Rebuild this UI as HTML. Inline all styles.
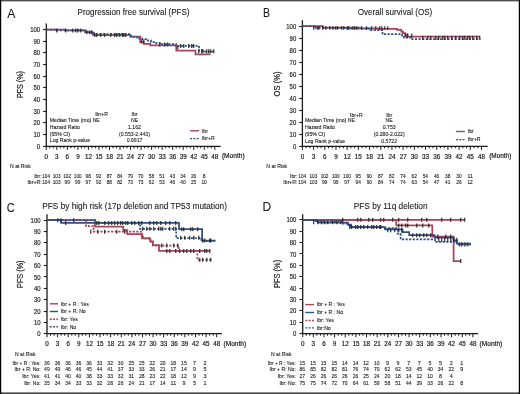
<!DOCTYPE html><html><head><meta charset="utf-8"><style>html,body{margin:0;padding:0;background:#fff;}svg{display:block;will-change:transform;filter:blur(0.3px);} text{stroke:#1a1a1a;stroke-width:0.18px;}</style></head><body>
<svg width="520" height="394" viewBox="0 0 520 394" font-family='"Liberation Sans", sans-serif'>
<rect x="0" y="0" width="520" height="394" fill="#fff"/>
<text x="7.20" y="17.60" font-size="12.2" fill="#1a1a1a" style="stroke-width:0.08px">A</text>
<text x="77.50" y="15.00" font-size="9" textLength="112" lengthAdjust="spacingAndGlyphs" fill="#1a1a1a" style="stroke-width:0.1px">Progression free survival (PFS)</text>
<text transform="translate(23.3,98.1) rotate(-90)" font-size="8.2" textLength="27" lengthAdjust="spacingAndGlyphs" fill="#1a1a1a">PFS (%)</text>
<line x1="46.30" y1="23.60" x2="46.30" y2="146.90" stroke="#1a1a1a" stroke-width="1.3"/>
<line x1="45.70" y1="146.30" x2="220.60" y2="146.30" stroke="#1a1a1a" stroke-width="1.3"/>
<line x1="43.10" y1="146.50" x2="46.30" y2="146.50" stroke="#1a1a1a" stroke-width="1.1"/>
<text x="40.10" y="148.85" font-size="7.4" text-anchor="end" textLength="3.3" lengthAdjust="spacingAndGlyphs" fill="#1a1a1a">0</text>
<line x1="43.10" y1="134.50" x2="46.30" y2="134.50" stroke="#1a1a1a" stroke-width="1.1"/>
<text x="40.10" y="137.17" font-size="7.4" text-anchor="end" textLength="6.6" lengthAdjust="spacingAndGlyphs" fill="#1a1a1a">10</text>
<line x1="43.10" y1="122.50" x2="46.30" y2="122.50" stroke="#1a1a1a" stroke-width="1.1"/>
<text x="40.10" y="125.49" font-size="7.4" text-anchor="end" textLength="6.6" lengthAdjust="spacingAndGlyphs" fill="#1a1a1a">20</text>
<line x1="43.10" y1="111.50" x2="46.30" y2="111.50" stroke="#1a1a1a" stroke-width="1.1"/>
<text x="40.10" y="113.81" font-size="7.4" text-anchor="end" textLength="6.6" lengthAdjust="spacingAndGlyphs" fill="#1a1a1a">30</text>
<line x1="43.10" y1="99.50" x2="46.30" y2="99.50" stroke="#1a1a1a" stroke-width="1.1"/>
<text x="40.10" y="102.13" font-size="7.4" text-anchor="end" textLength="6.6" lengthAdjust="spacingAndGlyphs" fill="#1a1a1a">40</text>
<line x1="43.10" y1="87.50" x2="46.30" y2="87.50" stroke="#1a1a1a" stroke-width="1.1"/>
<text x="40.10" y="90.45" font-size="7.4" text-anchor="end" textLength="6.6" lengthAdjust="spacingAndGlyphs" fill="#1a1a1a">50</text>
<line x1="43.10" y1="76.50" x2="46.30" y2="76.50" stroke="#1a1a1a" stroke-width="1.1"/>
<text x="40.10" y="78.77" font-size="7.4" text-anchor="end" textLength="6.6" lengthAdjust="spacingAndGlyphs" fill="#1a1a1a">60</text>
<line x1="43.10" y1="64.50" x2="46.30" y2="64.50" stroke="#1a1a1a" stroke-width="1.1"/>
<text x="40.10" y="67.09" font-size="7.4" text-anchor="end" textLength="6.6" lengthAdjust="spacingAndGlyphs" fill="#1a1a1a">70</text>
<line x1="43.10" y1="52.50" x2="46.30" y2="52.50" stroke="#1a1a1a" stroke-width="1.1"/>
<text x="40.10" y="55.41" font-size="7.4" text-anchor="end" textLength="6.6" lengthAdjust="spacingAndGlyphs" fill="#1a1a1a">80</text>
<line x1="43.10" y1="41.50" x2="46.30" y2="41.50" stroke="#1a1a1a" stroke-width="1.1"/>
<text x="40.10" y="43.73" font-size="7.4" text-anchor="end" textLength="6.6" lengthAdjust="spacingAndGlyphs" fill="#1a1a1a">90</text>
<line x1="43.10" y1="29.50" x2="46.30" y2="29.50" stroke="#1a1a1a" stroke-width="1.1"/>
<text x="40.10" y="32.05" font-size="7.4" text-anchor="end" textLength="9.9" lengthAdjust="spacingAndGlyphs" fill="#1a1a1a">100</text>
<line x1="46.30" y1="146.30" x2="46.30" y2="149.90" stroke="#1a1a1a" stroke-width="1.0"/>
<text x="46.30" y="158.70" font-size="6.3" text-anchor="middle" fill="#1a1a1a">0</text>
<line x1="49.81" y1="146.30" x2="49.81" y2="148.30" stroke="#1a1a1a" stroke-width="1.0"/>
<line x1="53.32" y1="146.30" x2="53.32" y2="148.30" stroke="#1a1a1a" stroke-width="1.0"/>
<line x1="56.83" y1="146.30" x2="56.83" y2="149.90" stroke="#1a1a1a" stroke-width="1.0"/>
<text x="56.83" y="158.70" font-size="6.3" text-anchor="middle" fill="#1a1a1a">3</text>
<line x1="60.34" y1="146.30" x2="60.34" y2="148.30" stroke="#1a1a1a" stroke-width="1.0"/>
<line x1="63.85" y1="146.30" x2="63.85" y2="148.30" stroke="#1a1a1a" stroke-width="1.0"/>
<line x1="67.36" y1="146.30" x2="67.36" y2="149.90" stroke="#1a1a1a" stroke-width="1.0"/>
<text x="67.36" y="158.70" font-size="6.3" text-anchor="middle" fill="#1a1a1a">6</text>
<line x1="70.87" y1="146.30" x2="70.87" y2="148.30" stroke="#1a1a1a" stroke-width="1.0"/>
<line x1="74.38" y1="146.30" x2="74.38" y2="148.30" stroke="#1a1a1a" stroke-width="1.0"/>
<line x1="77.89" y1="146.30" x2="77.89" y2="149.90" stroke="#1a1a1a" stroke-width="1.0"/>
<text x="77.89" y="158.70" font-size="6.3" text-anchor="middle" fill="#1a1a1a">9</text>
<line x1="81.40" y1="146.30" x2="81.40" y2="148.30" stroke="#1a1a1a" stroke-width="1.0"/>
<line x1="84.91" y1="146.30" x2="84.91" y2="148.30" stroke="#1a1a1a" stroke-width="1.0"/>
<line x1="88.42" y1="146.30" x2="88.42" y2="149.90" stroke="#1a1a1a" stroke-width="1.0"/>
<text x="88.42" y="158.70" font-size="6.3" text-anchor="middle" fill="#1a1a1a">12</text>
<line x1="91.94" y1="146.30" x2="91.94" y2="148.30" stroke="#1a1a1a" stroke-width="1.0"/>
<line x1="95.45" y1="146.30" x2="95.45" y2="148.30" stroke="#1a1a1a" stroke-width="1.0"/>
<line x1="98.96" y1="146.30" x2="98.96" y2="149.90" stroke="#1a1a1a" stroke-width="1.0"/>
<text x="98.96" y="158.70" font-size="6.3" text-anchor="middle" fill="#1a1a1a">15</text>
<line x1="102.47" y1="146.30" x2="102.47" y2="148.30" stroke="#1a1a1a" stroke-width="1.0"/>
<line x1="105.98" y1="146.30" x2="105.98" y2="148.30" stroke="#1a1a1a" stroke-width="1.0"/>
<line x1="109.49" y1="146.30" x2="109.49" y2="149.90" stroke="#1a1a1a" stroke-width="1.0"/>
<text x="109.49" y="158.70" font-size="6.3" text-anchor="middle" fill="#1a1a1a">18</text>
<line x1="113.00" y1="146.30" x2="113.00" y2="148.30" stroke="#1a1a1a" stroke-width="1.0"/>
<line x1="116.51" y1="146.30" x2="116.51" y2="148.30" stroke="#1a1a1a" stroke-width="1.0"/>
<line x1="120.02" y1="146.30" x2="120.02" y2="149.90" stroke="#1a1a1a" stroke-width="1.0"/>
<text x="120.02" y="158.70" font-size="6.3" text-anchor="middle" fill="#1a1a1a">21</text>
<line x1="123.53" y1="146.30" x2="123.53" y2="148.30" stroke="#1a1a1a" stroke-width="1.0"/>
<line x1="127.04" y1="146.30" x2="127.04" y2="148.30" stroke="#1a1a1a" stroke-width="1.0"/>
<line x1="130.55" y1="146.30" x2="130.55" y2="149.90" stroke="#1a1a1a" stroke-width="1.0"/>
<text x="130.55" y="158.70" font-size="6.3" text-anchor="middle" fill="#1a1a1a">24</text>
<line x1="134.06" y1="146.30" x2="134.06" y2="148.30" stroke="#1a1a1a" stroke-width="1.0"/>
<line x1="137.57" y1="146.30" x2="137.57" y2="148.30" stroke="#1a1a1a" stroke-width="1.0"/>
<line x1="141.08" y1="146.30" x2="141.08" y2="149.90" stroke="#1a1a1a" stroke-width="1.0"/>
<text x="141.08" y="158.70" font-size="6.3" text-anchor="middle" fill="#1a1a1a">27</text>
<line x1="144.59" y1="146.30" x2="144.59" y2="148.30" stroke="#1a1a1a" stroke-width="1.0"/>
<line x1="148.10" y1="146.30" x2="148.10" y2="148.30" stroke="#1a1a1a" stroke-width="1.0"/>
<line x1="151.61" y1="146.30" x2="151.61" y2="149.90" stroke="#1a1a1a" stroke-width="1.0"/>
<text x="151.61" y="158.70" font-size="6.3" text-anchor="middle" fill="#1a1a1a">30</text>
<line x1="155.12" y1="146.30" x2="155.12" y2="148.30" stroke="#1a1a1a" stroke-width="1.0"/>
<line x1="158.63" y1="146.30" x2="158.63" y2="148.30" stroke="#1a1a1a" stroke-width="1.0"/>
<line x1="162.14" y1="146.30" x2="162.14" y2="149.90" stroke="#1a1a1a" stroke-width="1.0"/>
<text x="162.14" y="158.70" font-size="6.3" text-anchor="middle" fill="#1a1a1a">33</text>
<line x1="165.65" y1="146.30" x2="165.65" y2="148.30" stroke="#1a1a1a" stroke-width="1.0"/>
<line x1="169.16" y1="146.30" x2="169.16" y2="148.30" stroke="#1a1a1a" stroke-width="1.0"/>
<line x1="172.68" y1="146.30" x2="172.68" y2="149.90" stroke="#1a1a1a" stroke-width="1.0"/>
<text x="172.68" y="158.70" font-size="6.3" text-anchor="middle" fill="#1a1a1a">36</text>
<line x1="176.19" y1="146.30" x2="176.19" y2="148.30" stroke="#1a1a1a" stroke-width="1.0"/>
<line x1="179.70" y1="146.30" x2="179.70" y2="148.30" stroke="#1a1a1a" stroke-width="1.0"/>
<line x1="183.21" y1="146.30" x2="183.21" y2="149.90" stroke="#1a1a1a" stroke-width="1.0"/>
<text x="183.21" y="158.70" font-size="6.3" text-anchor="middle" fill="#1a1a1a">39</text>
<line x1="186.72" y1="146.30" x2="186.72" y2="148.30" stroke="#1a1a1a" stroke-width="1.0"/>
<line x1="190.23" y1="146.30" x2="190.23" y2="148.30" stroke="#1a1a1a" stroke-width="1.0"/>
<line x1="193.74" y1="146.30" x2="193.74" y2="149.90" stroke="#1a1a1a" stroke-width="1.0"/>
<text x="193.74" y="158.70" font-size="6.3" text-anchor="middle" fill="#1a1a1a">42</text>
<line x1="197.25" y1="146.30" x2="197.25" y2="148.30" stroke="#1a1a1a" stroke-width="1.0"/>
<line x1="200.76" y1="146.30" x2="200.76" y2="148.30" stroke="#1a1a1a" stroke-width="1.0"/>
<line x1="204.27" y1="146.30" x2="204.27" y2="149.90" stroke="#1a1a1a" stroke-width="1.0"/>
<text x="204.27" y="158.70" font-size="6.3" text-anchor="middle" fill="#1a1a1a">45</text>
<line x1="207.78" y1="146.30" x2="207.78" y2="148.30" stroke="#1a1a1a" stroke-width="1.0"/>
<line x1="211.29" y1="146.30" x2="211.29" y2="148.30" stroke="#1a1a1a" stroke-width="1.0"/>
<line x1="214.80" y1="146.30" x2="214.80" y2="149.90" stroke="#1a1a1a" stroke-width="1.0"/>
<text x="214.80" y="158.70" font-size="6.3" text-anchor="middle" fill="#1a1a1a">48</text>
<text x="221.90" y="158.30" font-size="6.3" textLength="22.7" lengthAdjust="spacingAndGlyphs" fill="#1a1a1a">(Month)</text>
<text x="262.90" y="17.40" font-size="12.2" textLength="7.0" lengthAdjust="spacingAndGlyphs" fill="#1a1a1a" style="stroke-width:0.08px">B</text>
<text x="357.70" y="15.00" font-size="9" textLength="74.6" lengthAdjust="spacingAndGlyphs" fill="#1a1a1a" style="stroke-width:0.1px">Overall survival (OS)</text>
<text transform="translate(279.5,96.4) rotate(-90)" font-size="8.2" textLength="25" lengthAdjust="spacingAndGlyphs" fill="#1a1a1a">OS (%)</text>
<line x1="302.40" y1="20.30" x2="302.40" y2="146.90" stroke="#1a1a1a" stroke-width="1.3"/>
<line x1="301.80" y1="146.30" x2="487.70" y2="146.30" stroke="#1a1a1a" stroke-width="1.3"/>
<line x1="299.20" y1="146.50" x2="302.40" y2="146.50" stroke="#1a1a1a" stroke-width="1.1"/>
<text x="296.20" y="148.85" font-size="7.4" text-anchor="end" textLength="3.3" lengthAdjust="spacingAndGlyphs" fill="#1a1a1a">0</text>
<line x1="299.20" y1="134.50" x2="302.40" y2="134.50" stroke="#1a1a1a" stroke-width="1.1"/>
<text x="296.20" y="136.83" font-size="7.4" text-anchor="end" textLength="6.6" lengthAdjust="spacingAndGlyphs" fill="#1a1a1a">10</text>
<line x1="299.20" y1="122.50" x2="302.40" y2="122.50" stroke="#1a1a1a" stroke-width="1.1"/>
<text x="296.20" y="124.81" font-size="7.4" text-anchor="end" textLength="6.6" lengthAdjust="spacingAndGlyphs" fill="#1a1a1a">20</text>
<line x1="299.20" y1="110.50" x2="302.40" y2="110.50" stroke="#1a1a1a" stroke-width="1.1"/>
<text x="296.20" y="112.79" font-size="7.4" text-anchor="end" textLength="6.6" lengthAdjust="spacingAndGlyphs" fill="#1a1a1a">30</text>
<line x1="299.20" y1="98.50" x2="302.40" y2="98.50" stroke="#1a1a1a" stroke-width="1.1"/>
<text x="296.20" y="100.77" font-size="7.4" text-anchor="end" textLength="6.6" lengthAdjust="spacingAndGlyphs" fill="#1a1a1a">40</text>
<line x1="299.20" y1="86.50" x2="302.40" y2="86.50" stroke="#1a1a1a" stroke-width="1.1"/>
<text x="296.20" y="88.75" font-size="7.4" text-anchor="end" textLength="6.6" lengthAdjust="spacingAndGlyphs" fill="#1a1a1a">50</text>
<line x1="299.20" y1="74.50" x2="302.40" y2="74.50" stroke="#1a1a1a" stroke-width="1.1"/>
<text x="296.20" y="76.73" font-size="7.4" text-anchor="end" textLength="6.6" lengthAdjust="spacingAndGlyphs" fill="#1a1a1a">60</text>
<line x1="299.20" y1="62.50" x2="302.40" y2="62.50" stroke="#1a1a1a" stroke-width="1.1"/>
<text x="296.20" y="64.71" font-size="7.4" text-anchor="end" textLength="6.6" lengthAdjust="spacingAndGlyphs" fill="#1a1a1a">70</text>
<line x1="299.20" y1="50.50" x2="302.40" y2="50.50" stroke="#1a1a1a" stroke-width="1.1"/>
<text x="296.20" y="52.69" font-size="7.4" text-anchor="end" textLength="6.6" lengthAdjust="spacingAndGlyphs" fill="#1a1a1a">80</text>
<line x1="299.20" y1="38.50" x2="302.40" y2="38.50" stroke="#1a1a1a" stroke-width="1.1"/>
<text x="296.20" y="40.67" font-size="7.4" text-anchor="end" textLength="6.6" lengthAdjust="spacingAndGlyphs" fill="#1a1a1a">90</text>
<line x1="299.20" y1="26.50" x2="302.40" y2="26.50" stroke="#1a1a1a" stroke-width="1.1"/>
<text x="296.20" y="28.65" font-size="7.4" text-anchor="end" textLength="9.9" lengthAdjust="spacingAndGlyphs" fill="#1a1a1a">100</text>
<line x1="302.40" y1="146.30" x2="302.40" y2="149.90" stroke="#1a1a1a" stroke-width="1.0"/>
<text x="302.40" y="158.50" font-size="6.3" text-anchor="middle" fill="#1a1a1a">0</text>
<line x1="306.13" y1="146.30" x2="306.13" y2="148.30" stroke="#1a1a1a" stroke-width="1.0"/>
<line x1="309.86" y1="146.30" x2="309.86" y2="148.30" stroke="#1a1a1a" stroke-width="1.0"/>
<line x1="313.59" y1="146.30" x2="313.59" y2="149.90" stroke="#1a1a1a" stroke-width="1.0"/>
<text x="313.59" y="158.50" font-size="6.3" text-anchor="middle" fill="#1a1a1a">3</text>
<line x1="317.32" y1="146.30" x2="317.32" y2="148.30" stroke="#1a1a1a" stroke-width="1.0"/>
<line x1="321.06" y1="146.30" x2="321.06" y2="148.30" stroke="#1a1a1a" stroke-width="1.0"/>
<line x1="324.79" y1="146.30" x2="324.79" y2="149.90" stroke="#1a1a1a" stroke-width="1.0"/>
<text x="324.79" y="158.50" font-size="6.3" text-anchor="middle" fill="#1a1a1a">6</text>
<line x1="328.52" y1="146.30" x2="328.52" y2="148.30" stroke="#1a1a1a" stroke-width="1.0"/>
<line x1="332.25" y1="146.30" x2="332.25" y2="148.30" stroke="#1a1a1a" stroke-width="1.0"/>
<line x1="335.98" y1="146.30" x2="335.98" y2="149.90" stroke="#1a1a1a" stroke-width="1.0"/>
<text x="335.98" y="158.50" font-size="6.3" text-anchor="middle" fill="#1a1a1a">9</text>
<line x1="339.71" y1="146.30" x2="339.71" y2="148.30" stroke="#1a1a1a" stroke-width="1.0"/>
<line x1="343.44" y1="146.30" x2="343.44" y2="148.30" stroke="#1a1a1a" stroke-width="1.0"/>
<line x1="347.17" y1="146.30" x2="347.17" y2="149.90" stroke="#1a1a1a" stroke-width="1.0"/>
<text x="347.17" y="158.50" font-size="6.3" text-anchor="middle" fill="#1a1a1a">12</text>
<line x1="350.91" y1="146.30" x2="350.91" y2="148.30" stroke="#1a1a1a" stroke-width="1.0"/>
<line x1="354.64" y1="146.30" x2="354.64" y2="148.30" stroke="#1a1a1a" stroke-width="1.0"/>
<line x1="358.37" y1="146.30" x2="358.37" y2="149.90" stroke="#1a1a1a" stroke-width="1.0"/>
<text x="358.37" y="158.50" font-size="6.3" text-anchor="middle" fill="#1a1a1a">15</text>
<line x1="362.10" y1="146.30" x2="362.10" y2="148.30" stroke="#1a1a1a" stroke-width="1.0"/>
<line x1="365.83" y1="146.30" x2="365.83" y2="148.30" stroke="#1a1a1a" stroke-width="1.0"/>
<line x1="369.56" y1="146.30" x2="369.56" y2="149.90" stroke="#1a1a1a" stroke-width="1.0"/>
<text x="369.56" y="158.50" font-size="6.3" text-anchor="middle" fill="#1a1a1a">18</text>
<line x1="373.29" y1="146.30" x2="373.29" y2="148.30" stroke="#1a1a1a" stroke-width="1.0"/>
<line x1="377.02" y1="146.30" x2="377.02" y2="148.30" stroke="#1a1a1a" stroke-width="1.0"/>
<line x1="380.76" y1="146.30" x2="380.76" y2="149.90" stroke="#1a1a1a" stroke-width="1.0"/>
<text x="380.76" y="158.50" font-size="6.3" text-anchor="middle" fill="#1a1a1a">21</text>
<line x1="384.49" y1="146.30" x2="384.49" y2="148.30" stroke="#1a1a1a" stroke-width="1.0"/>
<line x1="388.22" y1="146.30" x2="388.22" y2="148.30" stroke="#1a1a1a" stroke-width="1.0"/>
<line x1="391.95" y1="146.30" x2="391.95" y2="149.90" stroke="#1a1a1a" stroke-width="1.0"/>
<text x="391.95" y="158.50" font-size="6.3" text-anchor="middle" fill="#1a1a1a">24</text>
<line x1="395.68" y1="146.30" x2="395.68" y2="148.30" stroke="#1a1a1a" stroke-width="1.0"/>
<line x1="399.41" y1="146.30" x2="399.41" y2="148.30" stroke="#1a1a1a" stroke-width="1.0"/>
<line x1="403.14" y1="146.30" x2="403.14" y2="149.90" stroke="#1a1a1a" stroke-width="1.0"/>
<text x="403.14" y="158.50" font-size="6.3" text-anchor="middle" fill="#1a1a1a">27</text>
<line x1="406.88" y1="146.30" x2="406.88" y2="148.30" stroke="#1a1a1a" stroke-width="1.0"/>
<line x1="410.61" y1="146.30" x2="410.61" y2="148.30" stroke="#1a1a1a" stroke-width="1.0"/>
<line x1="414.34" y1="146.30" x2="414.34" y2="149.90" stroke="#1a1a1a" stroke-width="1.0"/>
<text x="414.34" y="158.50" font-size="6.3" text-anchor="middle" fill="#1a1a1a">30</text>
<line x1="418.07" y1="146.30" x2="418.07" y2="148.30" stroke="#1a1a1a" stroke-width="1.0"/>
<line x1="421.80" y1="146.30" x2="421.80" y2="148.30" stroke="#1a1a1a" stroke-width="1.0"/>
<line x1="425.53" y1="146.30" x2="425.53" y2="149.90" stroke="#1a1a1a" stroke-width="1.0"/>
<text x="425.53" y="158.50" font-size="6.3" text-anchor="middle" fill="#1a1a1a">33</text>
<line x1="429.26" y1="146.30" x2="429.26" y2="148.30" stroke="#1a1a1a" stroke-width="1.0"/>
<line x1="432.99" y1="146.30" x2="432.99" y2="148.30" stroke="#1a1a1a" stroke-width="1.0"/>
<line x1="436.73" y1="146.30" x2="436.73" y2="149.90" stroke="#1a1a1a" stroke-width="1.0"/>
<text x="436.73" y="158.50" font-size="6.3" text-anchor="middle" fill="#1a1a1a">36</text>
<line x1="440.46" y1="146.30" x2="440.46" y2="148.30" stroke="#1a1a1a" stroke-width="1.0"/>
<line x1="444.19" y1="146.30" x2="444.19" y2="148.30" stroke="#1a1a1a" stroke-width="1.0"/>
<line x1="447.92" y1="146.30" x2="447.92" y2="149.90" stroke="#1a1a1a" stroke-width="1.0"/>
<text x="447.92" y="158.50" font-size="6.3" text-anchor="middle" fill="#1a1a1a">39</text>
<line x1="451.65" y1="146.30" x2="451.65" y2="148.30" stroke="#1a1a1a" stroke-width="1.0"/>
<line x1="455.38" y1="146.30" x2="455.38" y2="148.30" stroke="#1a1a1a" stroke-width="1.0"/>
<line x1="459.11" y1="146.30" x2="459.11" y2="149.90" stroke="#1a1a1a" stroke-width="1.0"/>
<text x="459.11" y="158.50" font-size="6.3" text-anchor="middle" fill="#1a1a1a">42</text>
<line x1="462.84" y1="146.30" x2="462.84" y2="148.30" stroke="#1a1a1a" stroke-width="1.0"/>
<line x1="466.58" y1="146.30" x2="466.58" y2="148.30" stroke="#1a1a1a" stroke-width="1.0"/>
<line x1="470.31" y1="146.30" x2="470.31" y2="149.90" stroke="#1a1a1a" stroke-width="1.0"/>
<text x="470.31" y="158.50" font-size="6.3" text-anchor="middle" fill="#1a1a1a">45</text>
<line x1="474.04" y1="146.30" x2="474.04" y2="148.30" stroke="#1a1a1a" stroke-width="1.0"/>
<line x1="477.77" y1="146.30" x2="477.77" y2="148.30" stroke="#1a1a1a" stroke-width="1.0"/>
<line x1="481.50" y1="146.30" x2="481.50" y2="149.90" stroke="#1a1a1a" stroke-width="1.0"/>
<text x="481.50" y="158.50" font-size="6.3" text-anchor="middle" fill="#1a1a1a">48</text>
<text x="489.20" y="158.30" font-size="6.3" textLength="22.1" lengthAdjust="spacingAndGlyphs" fill="#1a1a1a">(Month)</text>
<text x="6.80" y="211.60" font-size="12.0" textLength="8.0" lengthAdjust="spacingAndGlyphs" fill="#1a1a1a" style="stroke-width:0.08px">C</text>
<text x="42.30" y="209.00" font-size="9" textLength="184.6" lengthAdjust="spacingAndGlyphs" fill="#1a1a1a" style="stroke-width:0.1px">PFS by high risk (17p deletion and TP53 mutation)</text>
<text transform="translate(23.0,287.9) rotate(-90)" font-size="8.2" textLength="27.4" lengthAdjust="spacingAndGlyphs" fill="#1a1a1a">PFS (%)</text>
<line x1="47.00" y1="214.30" x2="47.00" y2="334.30" stroke="#1a1a1a" stroke-width="1.3"/>
<line x1="46.40" y1="333.70" x2="221.90" y2="333.70" stroke="#1a1a1a" stroke-width="1.3"/>
<line x1="43.80" y1="333.50" x2="47.00" y2="333.50" stroke="#1a1a1a" stroke-width="1.1"/>
<text x="40.50" y="336.25" font-size="7.4" text-anchor="end" textLength="3.3" lengthAdjust="spacingAndGlyphs" fill="#1a1a1a">0</text>
<line x1="43.80" y1="322.50" x2="47.00" y2="322.50" stroke="#1a1a1a" stroke-width="1.1"/>
<text x="40.50" y="324.90" font-size="7.4" text-anchor="end" textLength="6.6" lengthAdjust="spacingAndGlyphs" fill="#1a1a1a">10</text>
<line x1="43.80" y1="311.50" x2="47.00" y2="311.50" stroke="#1a1a1a" stroke-width="1.1"/>
<text x="40.50" y="313.55" font-size="7.4" text-anchor="end" textLength="6.6" lengthAdjust="spacingAndGlyphs" fill="#1a1a1a">20</text>
<line x1="43.80" y1="299.50" x2="47.00" y2="299.50" stroke="#1a1a1a" stroke-width="1.1"/>
<text x="40.50" y="302.20" font-size="7.4" text-anchor="end" textLength="6.6" lengthAdjust="spacingAndGlyphs" fill="#1a1a1a">30</text>
<line x1="43.80" y1="288.50" x2="47.00" y2="288.50" stroke="#1a1a1a" stroke-width="1.1"/>
<text x="40.50" y="290.85" font-size="7.4" text-anchor="end" textLength="6.6" lengthAdjust="spacingAndGlyphs" fill="#1a1a1a">40</text>
<line x1="43.80" y1="276.50" x2="47.00" y2="276.50" stroke="#1a1a1a" stroke-width="1.1"/>
<text x="40.50" y="279.50" font-size="7.4" text-anchor="end" textLength="6.6" lengthAdjust="spacingAndGlyphs" fill="#1a1a1a">50</text>
<line x1="43.80" y1="265.50" x2="47.00" y2="265.50" stroke="#1a1a1a" stroke-width="1.1"/>
<text x="40.50" y="268.15" font-size="7.4" text-anchor="end" textLength="6.6" lengthAdjust="spacingAndGlyphs" fill="#1a1a1a">60</text>
<line x1="43.80" y1="254.50" x2="47.00" y2="254.50" stroke="#1a1a1a" stroke-width="1.1"/>
<text x="40.50" y="256.80" font-size="7.4" text-anchor="end" textLength="6.6" lengthAdjust="spacingAndGlyphs" fill="#1a1a1a">70</text>
<line x1="43.80" y1="242.50" x2="47.00" y2="242.50" stroke="#1a1a1a" stroke-width="1.1"/>
<text x="40.50" y="245.45" font-size="7.4" text-anchor="end" textLength="6.6" lengthAdjust="spacingAndGlyphs" fill="#1a1a1a">80</text>
<line x1="43.80" y1="231.50" x2="47.00" y2="231.50" stroke="#1a1a1a" stroke-width="1.1"/>
<text x="40.50" y="234.10" font-size="7.4" text-anchor="end" textLength="6.6" lengthAdjust="spacingAndGlyphs" fill="#1a1a1a">90</text>
<line x1="43.80" y1="220.50" x2="47.00" y2="220.50" stroke="#1a1a1a" stroke-width="1.1"/>
<text x="40.50" y="222.75" font-size="7.4" text-anchor="end" textLength="9.9" lengthAdjust="spacingAndGlyphs" fill="#1a1a1a">100</text>
<line x1="47.00" y1="333.70" x2="47.00" y2="337.30" stroke="#1a1a1a" stroke-width="1.0"/>
<text x="47.00" y="345.90" font-size="6.3" text-anchor="middle" fill="#1a1a1a">0</text>
<line x1="50.54" y1="333.70" x2="50.54" y2="335.70" stroke="#1a1a1a" stroke-width="1.0"/>
<line x1="54.07" y1="333.70" x2="54.07" y2="335.70" stroke="#1a1a1a" stroke-width="1.0"/>
<line x1="57.61" y1="333.70" x2="57.61" y2="337.30" stroke="#1a1a1a" stroke-width="1.0"/>
<text x="57.61" y="345.90" font-size="6.3" text-anchor="middle" fill="#1a1a1a">3</text>
<line x1="61.14" y1="333.70" x2="61.14" y2="335.70" stroke="#1a1a1a" stroke-width="1.0"/>
<line x1="64.68" y1="333.70" x2="64.68" y2="335.70" stroke="#1a1a1a" stroke-width="1.0"/>
<line x1="68.21" y1="333.70" x2="68.21" y2="337.30" stroke="#1a1a1a" stroke-width="1.0"/>
<text x="68.21" y="345.90" font-size="6.3" text-anchor="middle" fill="#1a1a1a">6</text>
<line x1="71.75" y1="333.70" x2="71.75" y2="335.70" stroke="#1a1a1a" stroke-width="1.0"/>
<line x1="75.28" y1="333.70" x2="75.28" y2="335.70" stroke="#1a1a1a" stroke-width="1.0"/>
<line x1="78.82" y1="333.70" x2="78.82" y2="337.30" stroke="#1a1a1a" stroke-width="1.0"/>
<text x="78.82" y="345.90" font-size="6.3" text-anchor="middle" fill="#1a1a1a">9</text>
<line x1="82.35" y1="333.70" x2="82.35" y2="335.70" stroke="#1a1a1a" stroke-width="1.0"/>
<line x1="85.89" y1="333.70" x2="85.89" y2="335.70" stroke="#1a1a1a" stroke-width="1.0"/>
<line x1="89.42" y1="333.70" x2="89.42" y2="337.30" stroke="#1a1a1a" stroke-width="1.0"/>
<text x="89.42" y="345.90" font-size="6.3" text-anchor="middle" fill="#1a1a1a">12</text>
<line x1="92.96" y1="333.70" x2="92.96" y2="335.70" stroke="#1a1a1a" stroke-width="1.0"/>
<line x1="96.50" y1="333.70" x2="96.50" y2="335.70" stroke="#1a1a1a" stroke-width="1.0"/>
<line x1="100.03" y1="333.70" x2="100.03" y2="337.30" stroke="#1a1a1a" stroke-width="1.0"/>
<text x="100.03" y="345.90" font-size="6.3" text-anchor="middle" fill="#1a1a1a">15</text>
<line x1="103.57" y1="333.70" x2="103.57" y2="335.70" stroke="#1a1a1a" stroke-width="1.0"/>
<line x1="107.10" y1="333.70" x2="107.10" y2="335.70" stroke="#1a1a1a" stroke-width="1.0"/>
<line x1="110.64" y1="333.70" x2="110.64" y2="337.30" stroke="#1a1a1a" stroke-width="1.0"/>
<text x="110.64" y="345.90" font-size="6.3" text-anchor="middle" fill="#1a1a1a">18</text>
<line x1="114.17" y1="333.70" x2="114.17" y2="335.70" stroke="#1a1a1a" stroke-width="1.0"/>
<line x1="117.71" y1="333.70" x2="117.71" y2="335.70" stroke="#1a1a1a" stroke-width="1.0"/>
<line x1="121.24" y1="333.70" x2="121.24" y2="337.30" stroke="#1a1a1a" stroke-width="1.0"/>
<text x="121.24" y="345.90" font-size="6.3" text-anchor="middle" fill="#1a1a1a">21</text>
<line x1="124.78" y1="333.70" x2="124.78" y2="335.70" stroke="#1a1a1a" stroke-width="1.0"/>
<line x1="128.31" y1="333.70" x2="128.31" y2="335.70" stroke="#1a1a1a" stroke-width="1.0"/>
<line x1="131.85" y1="333.70" x2="131.85" y2="337.30" stroke="#1a1a1a" stroke-width="1.0"/>
<text x="131.85" y="345.90" font-size="6.3" text-anchor="middle" fill="#1a1a1a">24</text>
<line x1="135.39" y1="333.70" x2="135.39" y2="335.70" stroke="#1a1a1a" stroke-width="1.0"/>
<line x1="138.92" y1="333.70" x2="138.92" y2="335.70" stroke="#1a1a1a" stroke-width="1.0"/>
<line x1="142.46" y1="333.70" x2="142.46" y2="337.30" stroke="#1a1a1a" stroke-width="1.0"/>
<text x="142.46" y="345.90" font-size="6.3" text-anchor="middle" fill="#1a1a1a">27</text>
<line x1="145.99" y1="333.70" x2="145.99" y2="335.70" stroke="#1a1a1a" stroke-width="1.0"/>
<line x1="149.53" y1="333.70" x2="149.53" y2="335.70" stroke="#1a1a1a" stroke-width="1.0"/>
<line x1="153.06" y1="333.70" x2="153.06" y2="337.30" stroke="#1a1a1a" stroke-width="1.0"/>
<text x="153.06" y="345.90" font-size="6.3" text-anchor="middle" fill="#1a1a1a">30</text>
<line x1="156.60" y1="333.70" x2="156.60" y2="335.70" stroke="#1a1a1a" stroke-width="1.0"/>
<line x1="160.13" y1="333.70" x2="160.13" y2="335.70" stroke="#1a1a1a" stroke-width="1.0"/>
<line x1="163.67" y1="333.70" x2="163.67" y2="337.30" stroke="#1a1a1a" stroke-width="1.0"/>
<text x="163.67" y="345.90" font-size="6.3" text-anchor="middle" fill="#1a1a1a">33</text>
<line x1="167.20" y1="333.70" x2="167.20" y2="335.70" stroke="#1a1a1a" stroke-width="1.0"/>
<line x1="170.74" y1="333.70" x2="170.74" y2="335.70" stroke="#1a1a1a" stroke-width="1.0"/>
<line x1="174.27" y1="333.70" x2="174.27" y2="337.30" stroke="#1a1a1a" stroke-width="1.0"/>
<text x="174.27" y="345.90" font-size="6.3" text-anchor="middle" fill="#1a1a1a">36</text>
<line x1="177.81" y1="333.70" x2="177.81" y2="335.70" stroke="#1a1a1a" stroke-width="1.0"/>
<line x1="181.35" y1="333.70" x2="181.35" y2="335.70" stroke="#1a1a1a" stroke-width="1.0"/>
<line x1="184.88" y1="333.70" x2="184.88" y2="337.30" stroke="#1a1a1a" stroke-width="1.0"/>
<text x="184.88" y="345.90" font-size="6.3" text-anchor="middle" fill="#1a1a1a">39</text>
<line x1="188.42" y1="333.70" x2="188.42" y2="335.70" stroke="#1a1a1a" stroke-width="1.0"/>
<line x1="191.95" y1="333.70" x2="191.95" y2="335.70" stroke="#1a1a1a" stroke-width="1.0"/>
<line x1="195.49" y1="333.70" x2="195.49" y2="337.30" stroke="#1a1a1a" stroke-width="1.0"/>
<text x="195.49" y="345.90" font-size="6.3" text-anchor="middle" fill="#1a1a1a">42</text>
<line x1="199.02" y1="333.70" x2="199.02" y2="335.70" stroke="#1a1a1a" stroke-width="1.0"/>
<line x1="202.56" y1="333.70" x2="202.56" y2="335.70" stroke="#1a1a1a" stroke-width="1.0"/>
<line x1="206.09" y1="333.70" x2="206.09" y2="337.30" stroke="#1a1a1a" stroke-width="1.0"/>
<text x="206.09" y="345.90" font-size="6.3" text-anchor="middle" fill="#1a1a1a">45</text>
<line x1="209.63" y1="333.70" x2="209.63" y2="335.70" stroke="#1a1a1a" stroke-width="1.0"/>
<line x1="213.16" y1="333.70" x2="213.16" y2="335.70" stroke="#1a1a1a" stroke-width="1.0"/>
<line x1="216.70" y1="333.70" x2="216.70" y2="337.30" stroke="#1a1a1a" stroke-width="1.0"/>
<text x="216.70" y="345.90" font-size="6.3" text-anchor="middle" fill="#1a1a1a">48</text>
<text x="223.50" y="345.90" font-size="6.3" textLength="22.7" lengthAdjust="spacingAndGlyphs" fill="#1a1a1a">(Month)</text>
<text x="262.60" y="211.40" font-size="12.0" fill="#1a1a1a" style="stroke-width:0.08px">D</text>
<text x="353.80" y="209.00" font-size="9" textLength="73.7" lengthAdjust="spacingAndGlyphs" fill="#1a1a1a" style="stroke-width:0.1px">PFS by 11q deletion</text>
<text transform="translate(279.6,287.9) rotate(-90)" font-size="8.2" textLength="28.0" lengthAdjust="spacingAndGlyphs" fill="#1a1a1a">PFS (%)</text>
<line x1="302.70" y1="214.30" x2="302.70" y2="334.30" stroke="#1a1a1a" stroke-width="1.3"/>
<line x1="302.10" y1="333.70" x2="478.10" y2="333.70" stroke="#1a1a1a" stroke-width="1.3"/>
<line x1="299.50" y1="333.50" x2="302.70" y2="333.50" stroke="#1a1a1a" stroke-width="1.1"/>
<text x="296.30" y="336.25" font-size="7.4" text-anchor="end" textLength="3.3" lengthAdjust="spacingAndGlyphs" fill="#1a1a1a">0</text>
<line x1="299.50" y1="322.50" x2="302.70" y2="322.50" stroke="#1a1a1a" stroke-width="1.1"/>
<text x="296.30" y="324.86" font-size="7.4" text-anchor="end" textLength="6.6" lengthAdjust="spacingAndGlyphs" fill="#1a1a1a">10</text>
<line x1="299.50" y1="310.50" x2="302.70" y2="310.50" stroke="#1a1a1a" stroke-width="1.1"/>
<text x="296.30" y="313.47" font-size="7.4" text-anchor="end" textLength="6.6" lengthAdjust="spacingAndGlyphs" fill="#1a1a1a">20</text>
<line x1="299.50" y1="299.50" x2="302.70" y2="299.50" stroke="#1a1a1a" stroke-width="1.1"/>
<text x="296.30" y="302.08" font-size="7.4" text-anchor="end" textLength="6.6" lengthAdjust="spacingAndGlyphs" fill="#1a1a1a">30</text>
<line x1="299.50" y1="288.50" x2="302.70" y2="288.50" stroke="#1a1a1a" stroke-width="1.1"/>
<text x="296.30" y="290.69" font-size="7.4" text-anchor="end" textLength="6.6" lengthAdjust="spacingAndGlyphs" fill="#1a1a1a">40</text>
<line x1="299.50" y1="276.50" x2="302.70" y2="276.50" stroke="#1a1a1a" stroke-width="1.1"/>
<text x="296.30" y="279.30" font-size="7.4" text-anchor="end" textLength="6.6" lengthAdjust="spacingAndGlyphs" fill="#1a1a1a">50</text>
<line x1="299.50" y1="265.50" x2="302.70" y2="265.50" stroke="#1a1a1a" stroke-width="1.1"/>
<text x="296.30" y="267.91" font-size="7.4" text-anchor="end" textLength="6.6" lengthAdjust="spacingAndGlyphs" fill="#1a1a1a">60</text>
<line x1="299.50" y1="253.50" x2="302.70" y2="253.50" stroke="#1a1a1a" stroke-width="1.1"/>
<text x="296.30" y="256.52" font-size="7.4" text-anchor="end" textLength="6.6" lengthAdjust="spacingAndGlyphs" fill="#1a1a1a">70</text>
<line x1="299.50" y1="242.50" x2="302.70" y2="242.50" stroke="#1a1a1a" stroke-width="1.1"/>
<text x="296.30" y="245.13" font-size="7.4" text-anchor="end" textLength="6.6" lengthAdjust="spacingAndGlyphs" fill="#1a1a1a">80</text>
<line x1="299.50" y1="231.50" x2="302.70" y2="231.50" stroke="#1a1a1a" stroke-width="1.1"/>
<text x="296.30" y="233.74" font-size="7.4" text-anchor="end" textLength="6.6" lengthAdjust="spacingAndGlyphs" fill="#1a1a1a">90</text>
<line x1="299.50" y1="219.50" x2="302.70" y2="219.50" stroke="#1a1a1a" stroke-width="1.1"/>
<text x="296.30" y="222.35" font-size="7.4" text-anchor="end" textLength="9.9" lengthAdjust="spacingAndGlyphs" fill="#1a1a1a">100</text>
<line x1="302.70" y1="333.70" x2="302.70" y2="337.30" stroke="#1a1a1a" stroke-width="1.0"/>
<text x="302.70" y="345.80" font-size="6.3" text-anchor="middle" fill="#1a1a1a">0</text>
<line x1="306.25" y1="333.70" x2="306.25" y2="335.70" stroke="#1a1a1a" stroke-width="1.0"/>
<line x1="309.79" y1="333.70" x2="309.79" y2="335.70" stroke="#1a1a1a" stroke-width="1.0"/>
<line x1="313.34" y1="333.70" x2="313.34" y2="337.30" stroke="#1a1a1a" stroke-width="1.0"/>
<text x="313.34" y="345.80" font-size="6.3" text-anchor="middle" fill="#1a1a1a">3</text>
<line x1="316.88" y1="333.70" x2="316.88" y2="335.70" stroke="#1a1a1a" stroke-width="1.0"/>
<line x1="320.43" y1="333.70" x2="320.43" y2="335.70" stroke="#1a1a1a" stroke-width="1.0"/>
<line x1="323.97" y1="333.70" x2="323.97" y2="337.30" stroke="#1a1a1a" stroke-width="1.0"/>
<text x="323.97" y="345.80" font-size="6.3" text-anchor="middle" fill="#1a1a1a">6</text>
<line x1="327.52" y1="333.70" x2="327.52" y2="335.70" stroke="#1a1a1a" stroke-width="1.0"/>
<line x1="331.07" y1="333.70" x2="331.07" y2="335.70" stroke="#1a1a1a" stroke-width="1.0"/>
<line x1="334.61" y1="333.70" x2="334.61" y2="337.30" stroke="#1a1a1a" stroke-width="1.0"/>
<text x="334.61" y="345.80" font-size="6.3" text-anchor="middle" fill="#1a1a1a">9</text>
<line x1="338.16" y1="333.70" x2="338.16" y2="335.70" stroke="#1a1a1a" stroke-width="1.0"/>
<line x1="341.70" y1="333.70" x2="341.70" y2="335.70" stroke="#1a1a1a" stroke-width="1.0"/>
<line x1="345.25" y1="333.70" x2="345.25" y2="337.30" stroke="#1a1a1a" stroke-width="1.0"/>
<text x="345.25" y="345.80" font-size="6.3" text-anchor="middle" fill="#1a1a1a">12</text>
<line x1="348.80" y1="333.70" x2="348.80" y2="335.70" stroke="#1a1a1a" stroke-width="1.0"/>
<line x1="352.34" y1="333.70" x2="352.34" y2="335.70" stroke="#1a1a1a" stroke-width="1.0"/>
<line x1="355.89" y1="333.70" x2="355.89" y2="337.30" stroke="#1a1a1a" stroke-width="1.0"/>
<text x="355.89" y="345.80" font-size="6.3" text-anchor="middle" fill="#1a1a1a">15</text>
<line x1="359.43" y1="333.70" x2="359.43" y2="335.70" stroke="#1a1a1a" stroke-width="1.0"/>
<line x1="362.98" y1="333.70" x2="362.98" y2="335.70" stroke="#1a1a1a" stroke-width="1.0"/>
<line x1="366.52" y1="333.70" x2="366.52" y2="337.30" stroke="#1a1a1a" stroke-width="1.0"/>
<text x="366.52" y="345.80" font-size="6.3" text-anchor="middle" fill="#1a1a1a">18</text>
<line x1="370.07" y1="333.70" x2="370.07" y2="335.70" stroke="#1a1a1a" stroke-width="1.0"/>
<line x1="373.62" y1="333.70" x2="373.62" y2="335.70" stroke="#1a1a1a" stroke-width="1.0"/>
<line x1="377.16" y1="333.70" x2="377.16" y2="337.30" stroke="#1a1a1a" stroke-width="1.0"/>
<text x="377.16" y="345.80" font-size="6.3" text-anchor="middle" fill="#1a1a1a">21</text>
<line x1="380.71" y1="333.70" x2="380.71" y2="335.70" stroke="#1a1a1a" stroke-width="1.0"/>
<line x1="384.25" y1="333.70" x2="384.25" y2="335.70" stroke="#1a1a1a" stroke-width="1.0"/>
<line x1="387.80" y1="333.70" x2="387.80" y2="337.30" stroke="#1a1a1a" stroke-width="1.0"/>
<text x="387.80" y="345.80" font-size="6.3" text-anchor="middle" fill="#1a1a1a">24</text>
<line x1="391.35" y1="333.70" x2="391.35" y2="335.70" stroke="#1a1a1a" stroke-width="1.0"/>
<line x1="394.89" y1="333.70" x2="394.89" y2="335.70" stroke="#1a1a1a" stroke-width="1.0"/>
<line x1="398.44" y1="333.70" x2="398.44" y2="337.30" stroke="#1a1a1a" stroke-width="1.0"/>
<text x="398.44" y="345.80" font-size="6.3" text-anchor="middle" fill="#1a1a1a">27</text>
<line x1="401.98" y1="333.70" x2="401.98" y2="335.70" stroke="#1a1a1a" stroke-width="1.0"/>
<line x1="405.53" y1="333.70" x2="405.53" y2="335.70" stroke="#1a1a1a" stroke-width="1.0"/>
<line x1="409.07" y1="333.70" x2="409.07" y2="337.30" stroke="#1a1a1a" stroke-width="1.0"/>
<text x="409.07" y="345.80" font-size="6.3" text-anchor="middle" fill="#1a1a1a">30</text>
<line x1="412.62" y1="333.70" x2="412.62" y2="335.70" stroke="#1a1a1a" stroke-width="1.0"/>
<line x1="416.17" y1="333.70" x2="416.17" y2="335.70" stroke="#1a1a1a" stroke-width="1.0"/>
<line x1="419.71" y1="333.70" x2="419.71" y2="337.30" stroke="#1a1a1a" stroke-width="1.0"/>
<text x="419.71" y="345.80" font-size="6.3" text-anchor="middle" fill="#1a1a1a">33</text>
<line x1="423.26" y1="333.70" x2="423.26" y2="335.70" stroke="#1a1a1a" stroke-width="1.0"/>
<line x1="426.80" y1="333.70" x2="426.80" y2="335.70" stroke="#1a1a1a" stroke-width="1.0"/>
<line x1="430.35" y1="333.70" x2="430.35" y2="337.30" stroke="#1a1a1a" stroke-width="1.0"/>
<text x="430.35" y="345.80" font-size="6.3" text-anchor="middle" fill="#1a1a1a">36</text>
<line x1="433.90" y1="333.70" x2="433.90" y2="335.70" stroke="#1a1a1a" stroke-width="1.0"/>
<line x1="437.44" y1="333.70" x2="437.44" y2="335.70" stroke="#1a1a1a" stroke-width="1.0"/>
<line x1="440.99" y1="333.70" x2="440.99" y2="337.30" stroke="#1a1a1a" stroke-width="1.0"/>
<text x="440.99" y="345.80" font-size="6.3" text-anchor="middle" fill="#1a1a1a">39</text>
<line x1="444.53" y1="333.70" x2="444.53" y2="335.70" stroke="#1a1a1a" stroke-width="1.0"/>
<line x1="448.08" y1="333.70" x2="448.08" y2="335.70" stroke="#1a1a1a" stroke-width="1.0"/>
<line x1="451.62" y1="333.70" x2="451.62" y2="337.30" stroke="#1a1a1a" stroke-width="1.0"/>
<text x="451.62" y="345.80" font-size="6.3" text-anchor="middle" fill="#1a1a1a">42</text>
<line x1="455.17" y1="333.70" x2="455.17" y2="335.70" stroke="#1a1a1a" stroke-width="1.0"/>
<line x1="458.72" y1="333.70" x2="458.72" y2="335.70" stroke="#1a1a1a" stroke-width="1.0"/>
<line x1="462.26" y1="333.70" x2="462.26" y2="337.30" stroke="#1a1a1a" stroke-width="1.0"/>
<text x="462.26" y="345.80" font-size="6.3" text-anchor="middle" fill="#1a1a1a">45</text>
<line x1="465.81" y1="333.70" x2="465.81" y2="335.70" stroke="#1a1a1a" stroke-width="1.0"/>
<line x1="469.35" y1="333.70" x2="469.35" y2="335.70" stroke="#1a1a1a" stroke-width="1.0"/>
<line x1="472.90" y1="333.70" x2="472.90" y2="337.30" stroke="#1a1a1a" stroke-width="1.0"/>
<text x="472.90" y="345.80" font-size="6.3" text-anchor="middle" fill="#1a1a1a">48</text>
<text x="479.60" y="345.80" font-size="6.3" textLength="22.7" lengthAdjust="spacingAndGlyphs" fill="#1a1a1a">(Month)</text>
<text x="49.80" y="122.20" font-size="5.15" fill="#1a1a1a" style="stroke-width:0.1px">Median Time (mo) NE</text>
<text x="49.80" y="128.90" font-size="5.15" fill="#1a1a1a" style="stroke-width:0.1px">Hazard Ratio</text>
<text x="49.80" y="135.60" font-size="5.15" fill="#1a1a1a" style="stroke-width:0.1px">(95% CI)</text>
<text x="49.80" y="142.20" font-size="5.15" fill="#1a1a1a" style="stroke-width:0.1px">Log Rank p-value</text>
<text x="101.50" y="115.90" font-size="5.15" text-anchor="middle" fill="#1a1a1a" style="stroke-width:0.1px">Ibr+R</text>
<text x="134.50" y="115.90" font-size="5.15" text-anchor="middle" fill="#1a1a1a" style="stroke-width:0.1px">Ibr</text>
<text x="134.50" y="122.20" font-size="5.15" text-anchor="middle" fill="#1a1a1a" style="stroke-width:0.1px">NE</text>
<text x="134.50" y="128.90" font-size="5.15" text-anchor="middle" fill="#1a1a1a" style="stroke-width:0.1px">1.162</text>
<text x="134.50" y="135.60" font-size="5.15" text-anchor="middle" fill="#1a1a1a" style="stroke-width:0.1px">(0.553-2.443)</text>
<text x="134.50" y="142.20" font-size="5.15" text-anchor="middle" fill="#1a1a1a" style="stroke-width:0.1px">0.6917</text>
<line x1="190.10" y1="130.80" x2="199.00" y2="130.80" stroke="#a8435a" stroke-width="1.4"/>
<line x1="190.10" y1="138.60" x2="199.00" y2="138.60" stroke="#2d5088" stroke-width="1.4" stroke-dasharray="2,1.3"/>
<text x="201.90" y="132.60" font-size="5.15" fill="#1a1a1a" style="stroke-width:0.1px">Ibr</text>
<text x="201.90" y="140.40" font-size="5.15" fill="#1a1a1a" style="stroke-width:0.1px">Ibr+R</text>
<text x="10.00" y="168.20" font-size="5.15" fill="#1a1a1a" style="stroke-width:0.1px">N at Risk</text>
<text x="41.60" y="177.80" font-size="5.15" text-anchor="end" fill="#1a1a1a" style="stroke-width:0.1px">Ibr:</text>
<text x="41.60" y="184.40" font-size="5.15" text-anchor="end" fill="#1a1a1a" style="stroke-width:0.1px">Ibr+R:</text>
<text x="46.10" y="177.80" font-size="5.1" text-anchor="middle" textLength="7.75" lengthAdjust="spacingAndGlyphs" fill="#1a1a1a" style="stroke-width:0.1px">104</text>
<text x="56.63" y="177.80" font-size="5.1" text-anchor="middle" textLength="7.75" lengthAdjust="spacingAndGlyphs" fill="#1a1a1a" style="stroke-width:0.1px">103</text>
<text x="67.16" y="177.80" font-size="5.1" text-anchor="middle" textLength="7.75" lengthAdjust="spacingAndGlyphs" fill="#1a1a1a" style="stroke-width:0.1px">102</text>
<text x="77.69" y="177.80" font-size="5.1" text-anchor="middle" textLength="7.75" lengthAdjust="spacingAndGlyphs" fill="#1a1a1a" style="stroke-width:0.1px">100</text>
<text x="88.22" y="177.80" font-size="5.1" text-anchor="middle" textLength="5.3" lengthAdjust="spacingAndGlyphs" fill="#1a1a1a" style="stroke-width:0.1px">98</text>
<text x="98.76" y="177.80" font-size="5.1" text-anchor="middle" textLength="5.3" lengthAdjust="spacingAndGlyphs" fill="#1a1a1a" style="stroke-width:0.1px">92</text>
<text x="109.29" y="177.80" font-size="5.1" text-anchor="middle" textLength="5.3" lengthAdjust="spacingAndGlyphs" fill="#1a1a1a" style="stroke-width:0.1px">87</text>
<text x="119.82" y="177.80" font-size="5.1" text-anchor="middle" textLength="5.3" lengthAdjust="spacingAndGlyphs" fill="#1a1a1a" style="stroke-width:0.1px">84</text>
<text x="130.35" y="177.80" font-size="5.1" text-anchor="middle" textLength="5.3" lengthAdjust="spacingAndGlyphs" fill="#1a1a1a" style="stroke-width:0.1px">79</text>
<text x="140.88" y="177.80" font-size="5.1" text-anchor="middle" textLength="5.3" lengthAdjust="spacingAndGlyphs" fill="#1a1a1a" style="stroke-width:0.1px">70</text>
<text x="151.41" y="177.80" font-size="5.1" text-anchor="middle" textLength="5.3" lengthAdjust="spacingAndGlyphs" fill="#1a1a1a" style="stroke-width:0.1px">58</text>
<text x="161.94" y="177.80" font-size="5.1" text-anchor="middle" textLength="5.3" lengthAdjust="spacingAndGlyphs" fill="#1a1a1a" style="stroke-width:0.1px">51</text>
<text x="172.48" y="177.80" font-size="5.1" text-anchor="middle" textLength="5.3" lengthAdjust="spacingAndGlyphs" fill="#1a1a1a" style="stroke-width:0.1px">43</text>
<text x="183.01" y="177.80" font-size="5.1" text-anchor="middle" textLength="5.3" lengthAdjust="spacingAndGlyphs" fill="#1a1a1a" style="stroke-width:0.1px">34</text>
<text x="193.54" y="177.80" font-size="5.1" text-anchor="middle" textLength="5.3" lengthAdjust="spacingAndGlyphs" fill="#1a1a1a" style="stroke-width:0.1px">26</text>
<text x="204.07" y="177.80" font-size="5.1" text-anchor="middle" textLength="2.85" lengthAdjust="spacingAndGlyphs" fill="#1a1a1a" style="stroke-width:0.1px">8</text>
<text x="46.10" y="184.40" font-size="5.1" text-anchor="middle" textLength="7.75" lengthAdjust="spacingAndGlyphs" fill="#1a1a1a" style="stroke-width:0.1px">104</text>
<text x="56.63" y="184.40" font-size="5.1" text-anchor="middle" textLength="7.75" lengthAdjust="spacingAndGlyphs" fill="#1a1a1a" style="stroke-width:0.1px">103</text>
<text x="67.16" y="184.40" font-size="5.1" text-anchor="middle" textLength="5.3" lengthAdjust="spacingAndGlyphs" fill="#1a1a1a" style="stroke-width:0.1px">99</text>
<text x="77.69" y="184.40" font-size="5.1" text-anchor="middle" textLength="5.3" lengthAdjust="spacingAndGlyphs" fill="#1a1a1a" style="stroke-width:0.1px">99</text>
<text x="88.22" y="184.40" font-size="5.1" text-anchor="middle" textLength="5.3" lengthAdjust="spacingAndGlyphs" fill="#1a1a1a" style="stroke-width:0.1px">97</text>
<text x="98.76" y="184.40" font-size="5.1" text-anchor="middle" textLength="5.3" lengthAdjust="spacingAndGlyphs" fill="#1a1a1a" style="stroke-width:0.1px">92</text>
<text x="109.29" y="184.40" font-size="5.1" text-anchor="middle" textLength="5.3" lengthAdjust="spacingAndGlyphs" fill="#1a1a1a" style="stroke-width:0.1px">88</text>
<text x="119.82" y="184.40" font-size="5.1" text-anchor="middle" textLength="5.3" lengthAdjust="spacingAndGlyphs" fill="#1a1a1a" style="stroke-width:0.1px">82</text>
<text x="130.35" y="184.40" font-size="5.1" text-anchor="middle" textLength="5.3" lengthAdjust="spacingAndGlyphs" fill="#1a1a1a" style="stroke-width:0.1px">73</text>
<text x="140.88" y="184.40" font-size="5.1" text-anchor="middle" textLength="5.3" lengthAdjust="spacingAndGlyphs" fill="#1a1a1a" style="stroke-width:0.1px">73</text>
<text x="151.41" y="184.40" font-size="5.1" text-anchor="middle" textLength="5.3" lengthAdjust="spacingAndGlyphs" fill="#1a1a1a" style="stroke-width:0.1px">62</text>
<text x="161.94" y="184.40" font-size="5.1" text-anchor="middle" textLength="5.3" lengthAdjust="spacingAndGlyphs" fill="#1a1a1a" style="stroke-width:0.1px">53</text>
<text x="172.48" y="184.40" font-size="5.1" text-anchor="middle" textLength="5.3" lengthAdjust="spacingAndGlyphs" fill="#1a1a1a" style="stroke-width:0.1px">46</text>
<text x="183.01" y="184.40" font-size="5.1" text-anchor="middle" textLength="5.3" lengthAdjust="spacingAndGlyphs" fill="#1a1a1a" style="stroke-width:0.1px">40</text>
<text x="193.54" y="184.40" font-size="5.1" text-anchor="middle" textLength="5.3" lengthAdjust="spacingAndGlyphs" fill="#1a1a1a" style="stroke-width:0.1px">25</text>
<text x="204.07" y="184.40" font-size="5.1" text-anchor="middle" textLength="5.3" lengthAdjust="spacingAndGlyphs" fill="#1a1a1a" style="stroke-width:0.1px">10</text>
<path d="M46.30,29.50 H65.00 V30.40 H85.80 V32.30 H93.00 V35.00 H130.40 V36.60 H140.20 V42.10 H143.70 V43.90 H150.30 V45.40 H176.30 V50.60 H195.50 V54.30 H210.70 V54.30" fill="none" stroke="#a8435a" stroke-width="1.75"/>
<path d="M46.30,29.50 H57.00 V30.30 H85.00 V32.00 H94.00 V34.20 H131.00 V36.80 H137.00 V38.40 H142.00 V39.20 H148.00 V40.50 H151.00 V42.00 H155.00 V43.00 H160.00 V44.20 H176.00 V45.90 H199.00 V50.60 H203.00 V51.70 H214.40 V51.70" fill="none" stroke="#2d5088" stroke-width="1.75" stroke-dasharray="2.2,1.4"/>
<line x1="56.75" y1="28.60" x2="56.75" y2="32.60" stroke="#262626" stroke-width="1.15"/>
<line x1="65.75" y1="28.60" x2="65.75" y2="32.60" stroke="#262626" stroke-width="1.15"/>
<line x1="72.75" y1="28.60" x2="72.75" y2="32.60" stroke="#262626" stroke-width="1.15"/>
<line x1="75.75" y1="28.60" x2="75.75" y2="32.60" stroke="#262626" stroke-width="1.15"/>
<line x1="77.75" y1="28.60" x2="77.75" y2="32.60" stroke="#262626" stroke-width="1.15"/>
<line x1="80.75" y1="28.60" x2="80.75" y2="32.60" stroke="#262626" stroke-width="1.15"/>
<line x1="86.75" y1="30.30" x2="86.75" y2="34.30" stroke="#262626" stroke-width="1.15"/>
<line x1="89.75" y1="30.30" x2="89.75" y2="34.30" stroke="#262626" stroke-width="1.15"/>
<line x1="91.75" y1="30.30" x2="91.75" y2="34.30" stroke="#262626" stroke-width="1.15"/>
<line x1="94.75" y1="33.00" x2="94.75" y2="37.00" stroke="#262626" stroke-width="1.15"/>
<line x1="96.75" y1="33.00" x2="96.75" y2="37.00" stroke="#262626" stroke-width="1.15"/>
<line x1="100.75" y1="33.00" x2="100.75" y2="37.00" stroke="#262626" stroke-width="1.15"/>
<line x1="104.75" y1="33.00" x2="104.75" y2="37.00" stroke="#262626" stroke-width="1.15"/>
<line x1="110.75" y1="33.00" x2="110.75" y2="37.00" stroke="#262626" stroke-width="1.15"/>
<line x1="114.75" y1="33.00" x2="114.75" y2="37.00" stroke="#262626" stroke-width="1.15"/>
<line x1="116.75" y1="33.00" x2="116.75" y2="37.00" stroke="#262626" stroke-width="1.15"/>
<line x1="119.75" y1="33.00" x2="119.75" y2="37.00" stroke="#262626" stroke-width="1.15"/>
<line x1="122.75" y1="33.00" x2="122.75" y2="37.00" stroke="#262626" stroke-width="1.15"/>
<line x1="123.75" y1="33.00" x2="123.75" y2="37.00" stroke="#262626" stroke-width="1.15"/>
<line x1="125.75" y1="33.00" x2="125.75" y2="37.00" stroke="#262626" stroke-width="1.15"/>
<line x1="141.75" y1="39.50" x2="141.75" y2="43.50" stroke="#262626" stroke-width="1.15"/>
<line x1="143.75" y1="39.50" x2="143.75" y2="43.50" stroke="#262626" stroke-width="1.15"/>
<line x1="159.75" y1="42.50" x2="159.75" y2="46.50" stroke="#262626" stroke-width="1.15"/>
<line x1="164.75" y1="42.50" x2="164.75" y2="46.50" stroke="#262626" stroke-width="1.15"/>
<line x1="167.75" y1="42.50" x2="167.75" y2="46.50" stroke="#262626" stroke-width="1.15"/>
<line x1="177.75" y1="45.50" x2="177.75" y2="49.50" stroke="#262626" stroke-width="1.15"/>
<line x1="180.75" y1="43.90" x2="180.75" y2="47.90" stroke="#262626" stroke-width="1.15"/>
<line x1="183.75" y1="43.90" x2="183.75" y2="47.90" stroke="#262626" stroke-width="1.15"/>
<line x1="188.75" y1="43.90" x2="188.75" y2="47.90" stroke="#262626" stroke-width="1.15"/>
<line x1="191.75" y1="43.90" x2="191.75" y2="47.90" stroke="#262626" stroke-width="1.15"/>
<line x1="193.75" y1="43.90" x2="193.75" y2="47.90" stroke="#262626" stroke-width="1.15"/>
<line x1="198.75" y1="49.20" x2="198.75" y2="53.20" stroke="#262626" stroke-width="1.15"/>
<line x1="201.75" y1="49.20" x2="201.75" y2="53.20" stroke="#262626" stroke-width="1.15"/>
<line x1="202.75" y1="49.20" x2="202.75" y2="53.20" stroke="#262626" stroke-width="1.15"/>
<line x1="206.75" y1="49.20" x2="206.75" y2="53.20" stroke="#262626" stroke-width="1.15"/>
<line x1="208.75" y1="49.20" x2="208.75" y2="53.20" stroke="#262626" stroke-width="1.15"/>
<line x1="210.75" y1="49.20" x2="210.75" y2="53.20" stroke="#262626" stroke-width="1.15"/>
<line x1="213.75" y1="49.20" x2="213.75" y2="53.20" stroke="#262626" stroke-width="1.15"/>
<text x="304.90" y="122.30" font-size="5.15" fill="#1a1a1a" style="stroke-width:0.1px">Median Time (mo) NE</text>
<text x="304.90" y="129.20" font-size="5.15" fill="#1a1a1a" style="stroke-width:0.1px">Hazard Ratio</text>
<text x="304.90" y="136.10" font-size="5.15" fill="#1a1a1a" style="stroke-width:0.1px">(95% CI)</text>
<text x="304.90" y="143.00" font-size="5.15" fill="#1a1a1a" style="stroke-width:0.1px">Log Rank p-value</text>
<text x="356.40" y="116.90" font-size="5.15" text-anchor="middle" fill="#1a1a1a" style="stroke-width:0.1px">Ibr+R</text>
<text x="389.20" y="116.90" font-size="5.15" text-anchor="middle" fill="#1a1a1a" style="stroke-width:0.1px">Ibr</text>
<text x="389.20" y="122.30" font-size="5.15" text-anchor="middle" fill="#1a1a1a" style="stroke-width:0.1px">NE</text>
<text x="389.20" y="129.20" font-size="5.15" text-anchor="middle" fill="#1a1a1a" style="stroke-width:0.1px">0.753</text>
<text x="389.20" y="136.10" font-size="5.15" text-anchor="middle" fill="#1a1a1a" style="stroke-width:0.1px">(0.280-2.022)</text>
<text x="389.20" y="143.00" font-size="5.15" text-anchor="middle" fill="#1a1a1a" style="stroke-width:0.1px">0.5722</text>
<line x1="456.00" y1="131.50" x2="464.80" y2="131.50" stroke="#a8435a" stroke-width="1.4"/>
<line x1="456.00" y1="139.60" x2="464.80" y2="139.60" stroke="#2d5088" stroke-width="1.4" stroke-dasharray="2,1.3"/>
<text x="467.80" y="133.30" font-size="5.15" fill="#1a1a1a" style="stroke-width:0.1px">Ibr</text>
<text x="467.80" y="141.40" font-size="5.15" fill="#1a1a1a" style="stroke-width:0.1px">Ibr+R</text>
<text x="266.30" y="167.50" font-size="5.15" fill="#1a1a1a" style="stroke-width:0.1px">N at Risk</text>
<text x="297.50" y="177.60" font-size="5.15" text-anchor="end" fill="#1a1a1a" style="stroke-width:0.1px">Ibr:</text>
<text x="297.50" y="184.10" font-size="5.15" text-anchor="end" fill="#1a1a1a" style="stroke-width:0.1px">Ibr+R:</text>
<text x="302.20" y="177.60" font-size="5.1" text-anchor="middle" textLength="7.75" lengthAdjust="spacingAndGlyphs" fill="#1a1a1a" style="stroke-width:0.1px">104</text>
<text x="313.39" y="177.60" font-size="5.1" text-anchor="middle" textLength="7.75" lengthAdjust="spacingAndGlyphs" fill="#1a1a1a" style="stroke-width:0.1px">103</text>
<text x="324.59" y="177.60" font-size="5.1" text-anchor="middle" textLength="7.75" lengthAdjust="spacingAndGlyphs" fill="#1a1a1a" style="stroke-width:0.1px">102</text>
<text x="335.78" y="177.60" font-size="5.1" text-anchor="middle" textLength="7.75" lengthAdjust="spacingAndGlyphs" fill="#1a1a1a" style="stroke-width:0.1px">100</text>
<text x="346.97" y="177.60" font-size="5.1" text-anchor="middle" textLength="7.75" lengthAdjust="spacingAndGlyphs" fill="#1a1a1a" style="stroke-width:0.1px">100</text>
<text x="358.17" y="177.60" font-size="5.1" text-anchor="middle" textLength="5.3" lengthAdjust="spacingAndGlyphs" fill="#1a1a1a" style="stroke-width:0.1px">95</text>
<text x="369.36" y="177.60" font-size="5.1" text-anchor="middle" textLength="5.3" lengthAdjust="spacingAndGlyphs" fill="#1a1a1a" style="stroke-width:0.1px">90</text>
<text x="380.56" y="177.60" font-size="5.1" text-anchor="middle" textLength="5.3" lengthAdjust="spacingAndGlyphs" fill="#1a1a1a" style="stroke-width:0.1px">87</text>
<text x="391.75" y="177.60" font-size="5.1" text-anchor="middle" textLength="5.3" lengthAdjust="spacingAndGlyphs" fill="#1a1a1a" style="stroke-width:0.1px">82</text>
<text x="402.94" y="177.60" font-size="5.1" text-anchor="middle" textLength="5.3" lengthAdjust="spacingAndGlyphs" fill="#1a1a1a" style="stroke-width:0.1px">74</text>
<text x="414.14" y="177.60" font-size="5.1" text-anchor="middle" textLength="5.3" lengthAdjust="spacingAndGlyphs" fill="#1a1a1a" style="stroke-width:0.1px">62</text>
<text x="425.33" y="177.60" font-size="5.1" text-anchor="middle" textLength="5.3" lengthAdjust="spacingAndGlyphs" fill="#1a1a1a" style="stroke-width:0.1px">54</text>
<text x="436.53" y="177.60" font-size="5.1" text-anchor="middle" textLength="5.3" lengthAdjust="spacingAndGlyphs" fill="#1a1a1a" style="stroke-width:0.1px">46</text>
<text x="447.72" y="177.60" font-size="5.1" text-anchor="middle" textLength="5.3" lengthAdjust="spacingAndGlyphs" fill="#1a1a1a" style="stroke-width:0.1px">38</text>
<text x="458.91" y="177.60" font-size="5.1" text-anchor="middle" textLength="5.3" lengthAdjust="spacingAndGlyphs" fill="#1a1a1a" style="stroke-width:0.1px">30</text>
<text x="470.11" y="177.60" font-size="5.1" text-anchor="middle" textLength="5.3" lengthAdjust="spacingAndGlyphs" fill="#1a1a1a" style="stroke-width:0.1px">11</text>
<text x="302.20" y="184.10" font-size="5.1" text-anchor="middle" textLength="7.75" lengthAdjust="spacingAndGlyphs" fill="#1a1a1a" style="stroke-width:0.1px">104</text>
<text x="313.39" y="184.10" font-size="5.1" text-anchor="middle" textLength="7.75" lengthAdjust="spacingAndGlyphs" fill="#1a1a1a" style="stroke-width:0.1px">103</text>
<text x="324.59" y="184.10" font-size="5.1" text-anchor="middle" textLength="5.3" lengthAdjust="spacingAndGlyphs" fill="#1a1a1a" style="stroke-width:0.1px">99</text>
<text x="335.78" y="184.10" font-size="5.1" text-anchor="middle" textLength="5.3" lengthAdjust="spacingAndGlyphs" fill="#1a1a1a" style="stroke-width:0.1px">99</text>
<text x="346.97" y="184.10" font-size="5.1" text-anchor="middle" textLength="5.3" lengthAdjust="spacingAndGlyphs" fill="#1a1a1a" style="stroke-width:0.1px">97</text>
<text x="358.17" y="184.10" font-size="5.1" text-anchor="middle" textLength="5.3" lengthAdjust="spacingAndGlyphs" fill="#1a1a1a" style="stroke-width:0.1px">94</text>
<text x="369.36" y="184.10" font-size="5.1" text-anchor="middle" textLength="5.3" lengthAdjust="spacingAndGlyphs" fill="#1a1a1a" style="stroke-width:0.1px">90</text>
<text x="380.56" y="184.10" font-size="5.1" text-anchor="middle" textLength="5.3" lengthAdjust="spacingAndGlyphs" fill="#1a1a1a" style="stroke-width:0.1px">84</text>
<text x="391.75" y="184.10" font-size="5.1" text-anchor="middle" textLength="5.3" lengthAdjust="spacingAndGlyphs" fill="#1a1a1a" style="stroke-width:0.1px">74</text>
<text x="402.94" y="184.10" font-size="5.1" text-anchor="middle" textLength="5.3" lengthAdjust="spacingAndGlyphs" fill="#1a1a1a" style="stroke-width:0.1px">74</text>
<text x="414.14" y="184.10" font-size="5.1" text-anchor="middle" textLength="5.3" lengthAdjust="spacingAndGlyphs" fill="#1a1a1a" style="stroke-width:0.1px">63</text>
<text x="425.33" y="184.10" font-size="5.1" text-anchor="middle" textLength="5.3" lengthAdjust="spacingAndGlyphs" fill="#1a1a1a" style="stroke-width:0.1px">54</text>
<text x="436.53" y="184.10" font-size="5.1" text-anchor="middle" textLength="5.3" lengthAdjust="spacingAndGlyphs" fill="#1a1a1a" style="stroke-width:0.1px">47</text>
<text x="447.72" y="184.10" font-size="5.1" text-anchor="middle" textLength="5.3" lengthAdjust="spacingAndGlyphs" fill="#1a1a1a" style="stroke-width:0.1px">41</text>
<text x="458.91" y="184.10" font-size="5.1" text-anchor="middle" textLength="5.3" lengthAdjust="spacingAndGlyphs" fill="#1a1a1a" style="stroke-width:0.1px">26</text>
<text x="470.11" y="184.10" font-size="5.1" text-anchor="middle" textLength="5.3" lengthAdjust="spacingAndGlyphs" fill="#1a1a1a" style="stroke-width:0.1px">12</text>
<path d="M302.00,26.10 H323.00 V27.60 H360.00 V28.30 H378.00 V28.80 H397.00 V29.80 H401.30 V31.50 H403.00 V33.00 H405.00 V34.50 H407.00 V36.50 H479.40 V36.50" fill="none" stroke="#a8435a" stroke-width="1.75"/>
<path d="M302.00,26.10 H314.40 V27.80 H345.00 V28.60 H370.00 V30.10 H382.50 V34.20 H402.00 V35.50 H404.00 V37.50 H412.30 V39.20 H480.40 V39.20" fill="none" stroke="#2d5088" stroke-width="1.75" stroke-dasharray="2.2,1.4"/>
<line x1="313.75" y1="26.20" x2="313.75" y2="29.80" stroke="#262626" stroke-width="1.15"/>
<line x1="317.75" y1="26.20" x2="317.75" y2="29.80" stroke="#262626" stroke-width="1.15"/>
<line x1="318.75" y1="26.20" x2="318.75" y2="29.80" stroke="#262626" stroke-width="1.15"/>
<line x1="322.75" y1="26.20" x2="322.75" y2="29.80" stroke="#262626" stroke-width="1.15"/>
<line x1="325.75" y1="26.20" x2="325.75" y2="29.80" stroke="#262626" stroke-width="1.15"/>
<line x1="329.75" y1="26.20" x2="329.75" y2="29.80" stroke="#262626" stroke-width="1.15"/>
<line x1="332.75" y1="26.20" x2="332.75" y2="29.80" stroke="#262626" stroke-width="1.15"/>
<line x1="335.75" y1="26.20" x2="335.75" y2="29.80" stroke="#262626" stroke-width="1.15"/>
<line x1="337.75" y1="26.20" x2="337.75" y2="29.80" stroke="#262626" stroke-width="1.15"/>
<line x1="341.75" y1="26.20" x2="341.75" y2="29.80" stroke="#262626" stroke-width="1.15"/>
<line x1="343.75" y1="26.20" x2="343.75" y2="29.80" stroke="#262626" stroke-width="1.15"/>
<line x1="347.75" y1="26.20" x2="347.75" y2="29.80" stroke="#262626" stroke-width="1.15"/>
<line x1="348.75" y1="26.20" x2="348.75" y2="29.80" stroke="#262626" stroke-width="1.15"/>
<line x1="352.75" y1="26.20" x2="352.75" y2="29.80" stroke="#262626" stroke-width="1.15"/>
<line x1="354.75" y1="26.20" x2="354.75" y2="29.80" stroke="#262626" stroke-width="1.15"/>
<line x1="356.75" y1="26.20" x2="356.75" y2="29.80" stroke="#262626" stroke-width="1.15"/>
<line x1="361.75" y1="26.20" x2="361.75" y2="29.80" stroke="#262626" stroke-width="1.15"/>
<line x1="366.75" y1="26.20" x2="366.75" y2="29.80" stroke="#262626" stroke-width="1.15"/>
<line x1="371.75" y1="26.20" x2="371.75" y2="29.80" stroke="#262626" stroke-width="1.15"/>
<line x1="375.75" y1="26.20" x2="375.75" y2="29.80" stroke="#262626" stroke-width="1.15"/>
<line x1="379.75" y1="26.20" x2="379.75" y2="29.80" stroke="#262626" stroke-width="1.15"/>
<line x1="381.75" y1="26.20" x2="381.75" y2="29.80" stroke="#262626" stroke-width="1.15"/>
<line x1="384.75" y1="26.20" x2="384.75" y2="29.80" stroke="#262626" stroke-width="1.15"/>
<line x1="387.75" y1="26.20" x2="387.75" y2="29.80" stroke="#262626" stroke-width="1.15"/>
<line x1="405.75" y1="33.50" x2="405.75" y2="37.50" stroke="#262626" stroke-width="1.15"/>
<line x1="407.75" y1="33.50" x2="407.75" y2="37.50" stroke="#262626" stroke-width="1.15"/>
<line x1="411.75" y1="33.50" x2="411.75" y2="37.50" stroke="#262626" stroke-width="1.15"/>
<line x1="422.75" y1="35.80" x2="422.75" y2="39.80" stroke="#262626" stroke-width="1.15"/>
<line x1="427.75" y1="35.80" x2="427.75" y2="39.80" stroke="#262626" stroke-width="1.15"/>
<line x1="430.75" y1="35.80" x2="430.75" y2="39.80" stroke="#262626" stroke-width="1.15"/>
<line x1="435.75" y1="35.80" x2="435.75" y2="39.80" stroke="#262626" stroke-width="1.15"/>
<line x1="438.75" y1="35.80" x2="438.75" y2="39.80" stroke="#262626" stroke-width="1.15"/>
<line x1="442.75" y1="35.80" x2="442.75" y2="39.80" stroke="#262626" stroke-width="1.15"/>
<line x1="444.75" y1="35.80" x2="444.75" y2="39.80" stroke="#262626" stroke-width="1.15"/>
<line x1="447.75" y1="35.80" x2="447.75" y2="39.80" stroke="#262626" stroke-width="1.15"/>
<line x1="451.75" y1="35.80" x2="451.75" y2="39.80" stroke="#262626" stroke-width="1.15"/>
<line x1="455.75" y1="35.80" x2="455.75" y2="39.80" stroke="#262626" stroke-width="1.15"/>
<line x1="459.75" y1="35.80" x2="459.75" y2="39.80" stroke="#262626" stroke-width="1.15"/>
<line x1="462.75" y1="35.80" x2="462.75" y2="39.80" stroke="#262626" stroke-width="1.15"/>
<line x1="464.75" y1="35.80" x2="464.75" y2="39.80" stroke="#262626" stroke-width="1.15"/>
<line x1="467.75" y1="35.80" x2="467.75" y2="39.80" stroke="#262626" stroke-width="1.15"/>
<line x1="469.75" y1="35.80" x2="469.75" y2="39.80" stroke="#262626" stroke-width="1.15"/>
<line x1="472.75" y1="35.80" x2="472.75" y2="39.80" stroke="#262626" stroke-width="1.15"/>
<line x1="476.75" y1="35.80" x2="476.75" y2="39.80" stroke="#262626" stroke-width="1.15"/>
<line x1="479.75" y1="35.80" x2="479.75" y2="39.80" stroke="#262626" stroke-width="1.15"/>
<line x1="49.80" y1="303.80" x2="58.00" y2="303.80" stroke="#a8435a" stroke-width="1.4"/>
<line x1="49.80" y1="311.50" x2="58.00" y2="311.50" stroke="#2d5088" stroke-width="1.4"/>
<line x1="49.80" y1="319.20" x2="58.00" y2="319.20" stroke="#a8435a" stroke-width="1.4" stroke-dasharray="2,1.3"/>
<line x1="49.80" y1="326.80" x2="58.00" y2="326.80" stroke="#2d5088" stroke-width="1.4" stroke-dasharray="2,1.3"/>
<text x="60.90" y="305.65" font-size="5.1" fill="#1a1a1a" style="stroke-width:0.1px">Ibr + R : Yes</text>
<text x="60.90" y="313.35" font-size="5.1" fill="#1a1a1a" style="stroke-width:0.1px">Ibr + R: No</text>
<text x="60.90" y="321.05" font-size="5.1" fill="#1a1a1a" style="stroke-width:0.1px">Ibr: Yes</text>
<text x="60.90" y="328.65" font-size="5.1" fill="#1a1a1a" style="stroke-width:0.1px">Ibr: No</text>
<text x="15.00" y="355.60" font-size="5.1" fill="#1a1a1a" style="stroke-width:0.1px">N at Risk</text>
<text x="40.60" y="364.80" font-size="5.1" text-anchor="end" textLength="28.2" lengthAdjust="spacingAndGlyphs" fill="#1a1a1a" style="stroke-width:0.1px">Ibr + R : Yes:</text>
<text x="46.90" y="364.80" font-size="5.1" text-anchor="middle" textLength="5.6" lengthAdjust="spacingAndGlyphs" fill="#1a1a1a" style="stroke-width:0.1px">36</text>
<text x="57.44" y="364.80" font-size="5.1" text-anchor="middle" textLength="5.6" lengthAdjust="spacingAndGlyphs" fill="#1a1a1a" style="stroke-width:0.1px">36</text>
<text x="67.98" y="364.80" font-size="5.1" text-anchor="middle" textLength="5.6" lengthAdjust="spacingAndGlyphs" fill="#1a1a1a" style="stroke-width:0.1px">36</text>
<text x="78.52" y="364.80" font-size="5.1" text-anchor="middle" textLength="5.6" lengthAdjust="spacingAndGlyphs" fill="#1a1a1a" style="stroke-width:0.1px">36</text>
<text x="89.06" y="364.80" font-size="5.1" text-anchor="middle" textLength="5.6" lengthAdjust="spacingAndGlyphs" fill="#1a1a1a" style="stroke-width:0.1px">36</text>
<text x="99.59" y="364.80" font-size="5.1" text-anchor="middle" textLength="5.6" lengthAdjust="spacingAndGlyphs" fill="#1a1a1a" style="stroke-width:0.1px">33</text>
<text x="110.13" y="364.80" font-size="5.1" text-anchor="middle" textLength="5.6" lengthAdjust="spacingAndGlyphs" fill="#1a1a1a" style="stroke-width:0.1px">32</text>
<text x="120.67" y="364.80" font-size="5.1" text-anchor="middle" textLength="5.6" lengthAdjust="spacingAndGlyphs" fill="#1a1a1a" style="stroke-width:0.1px">30</text>
<text x="131.21" y="364.80" font-size="5.1" text-anchor="middle" textLength="5.6" lengthAdjust="spacingAndGlyphs" fill="#1a1a1a" style="stroke-width:0.1px">25</text>
<text x="141.75" y="364.80" font-size="5.1" text-anchor="middle" textLength="5.6" lengthAdjust="spacingAndGlyphs" fill="#1a1a1a" style="stroke-width:0.1px">25</text>
<text x="152.29" y="364.80" font-size="5.1" text-anchor="middle" textLength="5.6" lengthAdjust="spacingAndGlyphs" fill="#1a1a1a" style="stroke-width:0.1px">22</text>
<text x="162.83" y="364.80" font-size="5.1" text-anchor="middle" textLength="5.6" lengthAdjust="spacingAndGlyphs" fill="#1a1a1a" style="stroke-width:0.1px">20</text>
<text x="173.37" y="364.80" font-size="5.1" text-anchor="middle" textLength="5.6" lengthAdjust="spacingAndGlyphs" fill="#1a1a1a" style="stroke-width:0.1px">18</text>
<text x="183.91" y="364.80" font-size="5.1" text-anchor="middle" textLength="5.6" lengthAdjust="spacingAndGlyphs" fill="#1a1a1a" style="stroke-width:0.1px">15</text>
<text x="194.45" y="364.80" font-size="5.1" text-anchor="middle" textLength="3.0" lengthAdjust="spacingAndGlyphs" fill="#1a1a1a" style="stroke-width:0.1px">7</text>
<text x="204.99" y="364.80" font-size="5.1" text-anchor="middle" textLength="3.0" lengthAdjust="spacingAndGlyphs" fill="#1a1a1a" style="stroke-width:0.1px">2</text>
<text x="40.60" y="371.47" font-size="5.1" text-anchor="end" textLength="26.2" lengthAdjust="spacingAndGlyphs" fill="#1a1a1a" style="stroke-width:0.1px">Ibr + R: No:</text>
<text x="46.90" y="371.47" font-size="5.1" text-anchor="middle" textLength="5.6" lengthAdjust="spacingAndGlyphs" fill="#1a1a1a" style="stroke-width:0.1px">49</text>
<text x="57.44" y="371.47" font-size="5.1" text-anchor="middle" textLength="5.6" lengthAdjust="spacingAndGlyphs" fill="#1a1a1a" style="stroke-width:0.1px">49</text>
<text x="67.98" y="371.47" font-size="5.1" text-anchor="middle" textLength="5.6" lengthAdjust="spacingAndGlyphs" fill="#1a1a1a" style="stroke-width:0.1px">46</text>
<text x="78.52" y="371.47" font-size="5.1" text-anchor="middle" textLength="5.6" lengthAdjust="spacingAndGlyphs" fill="#1a1a1a" style="stroke-width:0.1px">46</text>
<text x="89.06" y="371.47" font-size="5.1" text-anchor="middle" textLength="5.6" lengthAdjust="spacingAndGlyphs" fill="#1a1a1a" style="stroke-width:0.1px">45</text>
<text x="99.59" y="371.47" font-size="5.1" text-anchor="middle" textLength="5.6" lengthAdjust="spacingAndGlyphs" fill="#1a1a1a" style="stroke-width:0.1px">44</text>
<text x="110.13" y="371.47" font-size="5.1" text-anchor="middle" textLength="5.6" lengthAdjust="spacingAndGlyphs" fill="#1a1a1a" style="stroke-width:0.1px">41</text>
<text x="120.67" y="371.47" font-size="5.1" text-anchor="middle" textLength="5.6" lengthAdjust="spacingAndGlyphs" fill="#1a1a1a" style="stroke-width:0.1px">37</text>
<text x="131.21" y="371.47" font-size="5.1" text-anchor="middle" textLength="5.6" lengthAdjust="spacingAndGlyphs" fill="#1a1a1a" style="stroke-width:0.1px">33</text>
<text x="141.75" y="371.47" font-size="5.1" text-anchor="middle" textLength="5.6" lengthAdjust="spacingAndGlyphs" fill="#1a1a1a" style="stroke-width:0.1px">33</text>
<text x="152.29" y="371.47" font-size="5.1" text-anchor="middle" textLength="5.6" lengthAdjust="spacingAndGlyphs" fill="#1a1a1a" style="stroke-width:0.1px">26</text>
<text x="162.83" y="371.47" font-size="5.1" text-anchor="middle" textLength="5.6" lengthAdjust="spacingAndGlyphs" fill="#1a1a1a" style="stroke-width:0.1px">21</text>
<text x="173.37" y="371.47" font-size="5.1" text-anchor="middle" textLength="5.6" lengthAdjust="spacingAndGlyphs" fill="#1a1a1a" style="stroke-width:0.1px">17</text>
<text x="183.91" y="371.47" font-size="5.1" text-anchor="middle" textLength="5.6" lengthAdjust="spacingAndGlyphs" fill="#1a1a1a" style="stroke-width:0.1px">14</text>
<text x="194.45" y="371.47" font-size="5.1" text-anchor="middle" textLength="3.0" lengthAdjust="spacingAndGlyphs" fill="#1a1a1a" style="stroke-width:0.1px">9</text>
<text x="204.99" y="371.47" font-size="5.1" text-anchor="middle" textLength="3.0" lengthAdjust="spacingAndGlyphs" fill="#1a1a1a" style="stroke-width:0.1px">5</text>
<text x="40.60" y="378.14" font-size="5.1" text-anchor="end" textLength="18.4" lengthAdjust="spacingAndGlyphs" fill="#1a1a1a" style="stroke-width:0.1px">Ibr: Yes:</text>
<text x="46.90" y="378.14" font-size="5.1" text-anchor="middle" textLength="5.6" lengthAdjust="spacingAndGlyphs" fill="#1a1a1a" style="stroke-width:0.1px">41</text>
<text x="57.44" y="378.14" font-size="5.1" text-anchor="middle" textLength="5.6" lengthAdjust="spacingAndGlyphs" fill="#1a1a1a" style="stroke-width:0.1px">41</text>
<text x="67.98" y="378.14" font-size="5.1" text-anchor="middle" textLength="5.6" lengthAdjust="spacingAndGlyphs" fill="#1a1a1a" style="stroke-width:0.1px">40</text>
<text x="78.52" y="378.14" font-size="5.1" text-anchor="middle" textLength="5.6" lengthAdjust="spacingAndGlyphs" fill="#1a1a1a" style="stroke-width:0.1px">40</text>
<text x="89.06" y="378.14" font-size="5.1" text-anchor="middle" textLength="5.6" lengthAdjust="spacingAndGlyphs" fill="#1a1a1a" style="stroke-width:0.1px">38</text>
<text x="99.59" y="378.14" font-size="5.1" text-anchor="middle" textLength="5.6" lengthAdjust="spacingAndGlyphs" fill="#1a1a1a" style="stroke-width:0.1px">33</text>
<text x="110.13" y="378.14" font-size="5.1" text-anchor="middle" textLength="5.6" lengthAdjust="spacingAndGlyphs" fill="#1a1a1a" style="stroke-width:0.1px">33</text>
<text x="120.67" y="378.14" font-size="5.1" text-anchor="middle" textLength="5.6" lengthAdjust="spacingAndGlyphs" fill="#1a1a1a" style="stroke-width:0.1px">32</text>
<text x="131.21" y="378.14" font-size="5.1" text-anchor="middle" textLength="5.6" lengthAdjust="spacingAndGlyphs" fill="#1a1a1a" style="stroke-width:0.1px">31</text>
<text x="141.75" y="378.14" font-size="5.1" text-anchor="middle" textLength="5.6" lengthAdjust="spacingAndGlyphs" fill="#1a1a1a" style="stroke-width:0.1px">28</text>
<text x="152.29" y="378.14" font-size="5.1" text-anchor="middle" textLength="5.6" lengthAdjust="spacingAndGlyphs" fill="#1a1a1a" style="stroke-width:0.1px">23</text>
<text x="162.83" y="378.14" font-size="5.1" text-anchor="middle" textLength="5.6" lengthAdjust="spacingAndGlyphs" fill="#1a1a1a" style="stroke-width:0.1px">22</text>
<text x="173.37" y="378.14" font-size="5.1" text-anchor="middle" textLength="5.6" lengthAdjust="spacingAndGlyphs" fill="#1a1a1a" style="stroke-width:0.1px">18</text>
<text x="183.91" y="378.14" font-size="5.1" text-anchor="middle" textLength="5.6" lengthAdjust="spacingAndGlyphs" fill="#1a1a1a" style="stroke-width:0.1px">12</text>
<text x="194.45" y="378.14" font-size="5.1" text-anchor="middle" textLength="3.0" lengthAdjust="spacingAndGlyphs" fill="#1a1a1a" style="stroke-width:0.1px">9</text>
<text x="204.99" y="378.14" font-size="5.1" text-anchor="middle" textLength="3.0" lengthAdjust="spacingAndGlyphs" fill="#1a1a1a" style="stroke-width:0.1px">3</text>
<text x="40.60" y="384.81" font-size="5.1" text-anchor="end" textLength="16.4" lengthAdjust="spacingAndGlyphs" fill="#1a1a1a" style="stroke-width:0.1px">Ibr: No:</text>
<text x="46.90" y="384.81" font-size="5.1" text-anchor="middle" textLength="5.6" lengthAdjust="spacingAndGlyphs" fill="#1a1a1a" style="stroke-width:0.1px">35</text>
<text x="57.44" y="384.81" font-size="5.1" text-anchor="middle" textLength="5.6" lengthAdjust="spacingAndGlyphs" fill="#1a1a1a" style="stroke-width:0.1px">34</text>
<text x="67.98" y="384.81" font-size="5.1" text-anchor="middle" textLength="5.6" lengthAdjust="spacingAndGlyphs" fill="#1a1a1a" style="stroke-width:0.1px">34</text>
<text x="78.52" y="384.81" font-size="5.1" text-anchor="middle" textLength="5.6" lengthAdjust="spacingAndGlyphs" fill="#1a1a1a" style="stroke-width:0.1px">33</text>
<text x="89.06" y="384.81" font-size="5.1" text-anchor="middle" textLength="5.6" lengthAdjust="spacingAndGlyphs" fill="#1a1a1a" style="stroke-width:0.1px">33</text>
<text x="99.59" y="384.81" font-size="5.1" text-anchor="middle" textLength="5.6" lengthAdjust="spacingAndGlyphs" fill="#1a1a1a" style="stroke-width:0.1px">32</text>
<text x="110.13" y="384.81" font-size="5.1" text-anchor="middle" textLength="5.6" lengthAdjust="spacingAndGlyphs" fill="#1a1a1a" style="stroke-width:0.1px">28</text>
<text x="120.67" y="384.81" font-size="5.1" text-anchor="middle" textLength="5.6" lengthAdjust="spacingAndGlyphs" fill="#1a1a1a" style="stroke-width:0.1px">26</text>
<text x="131.21" y="384.81" font-size="5.1" text-anchor="middle" textLength="5.6" lengthAdjust="spacingAndGlyphs" fill="#1a1a1a" style="stroke-width:0.1px">24</text>
<text x="141.75" y="384.81" font-size="5.1" text-anchor="middle" textLength="5.6" lengthAdjust="spacingAndGlyphs" fill="#1a1a1a" style="stroke-width:0.1px">21</text>
<text x="152.29" y="384.81" font-size="5.1" text-anchor="middle" textLength="5.6" lengthAdjust="spacingAndGlyphs" fill="#1a1a1a" style="stroke-width:0.1px">17</text>
<text x="162.83" y="384.81" font-size="5.1" text-anchor="middle" textLength="5.6" lengthAdjust="spacingAndGlyphs" fill="#1a1a1a" style="stroke-width:0.1px">14</text>
<text x="173.37" y="384.81" font-size="5.1" text-anchor="middle" textLength="5.6" lengthAdjust="spacingAndGlyphs" fill="#1a1a1a" style="stroke-width:0.1px">11</text>
<text x="183.91" y="384.81" font-size="5.1" text-anchor="middle" textLength="3.0" lengthAdjust="spacingAndGlyphs" fill="#1a1a1a" style="stroke-width:0.1px">9</text>
<text x="194.45" y="384.81" font-size="5.1" text-anchor="middle" textLength="3.0" lengthAdjust="spacingAndGlyphs" fill="#1a1a1a" style="stroke-width:0.1px">5</text>
<text x="204.99" y="384.81" font-size="5.1" text-anchor="middle" textLength="3.0" lengthAdjust="spacingAndGlyphs" fill="#1a1a1a" style="stroke-width:0.1px">1</text>
<path d="M47.00,220.20 H95.00 V226.50 H123.30 V230.20 H127.30 V234.20 H142.00 V238.30 H150.20 V241.70 H153.00 V245.10 H159.00 V250.80 H210.20 V250.80" fill="none" stroke="#a8435a" stroke-width="1.75"/>
<path d="M47.00,220.20 H61.10 V222.90 H179.00 V229.20 H202.10 V240.50 H215.60 V240.50" fill="none" stroke="#2d5088" stroke-width="1.75"/>
<path d="M47.00,220.20 H86.00 V226.10 H93.50 V231.70 H141.00 V234.50 H143.00 V238.30 H150.50 V241.70 H153.00 V245.50 H178.70 V250.80 H197.40 V259.80 H211.50 V259.80" fill="none" stroke="#a8435a" stroke-width="1.75" stroke-dasharray="2.2,1.4"/>
<path d="M47.00,220.20 H95.00 V222.90 H140.00 V228.80 H176.20 V238.20 H201.40 V241.00 H215.00 V241.00" fill="none" stroke="#2d5088" stroke-width="1.75" stroke-dasharray="2.2,1.4"/>
<line x1="57.75" y1="218.20" x2="57.75" y2="222.20" stroke="#262626" stroke-width="1.15"/>
<line x1="60.75" y1="218.20" x2="60.75" y2="222.20" stroke="#262626" stroke-width="1.15"/>
<line x1="73.75" y1="218.20" x2="73.75" y2="222.20" stroke="#262626" stroke-width="1.15"/>
<line x1="65.75" y1="220.90" x2="65.75" y2="224.90" stroke="#262626" stroke-width="1.15"/>
<line x1="96.75" y1="220.90" x2="96.75" y2="224.90" stroke="#262626" stroke-width="1.15"/>
<line x1="98.75" y1="220.90" x2="98.75" y2="224.90" stroke="#262626" stroke-width="1.15"/>
<line x1="104.75" y1="220.90" x2="104.75" y2="224.90" stroke="#262626" stroke-width="1.15"/>
<line x1="108.75" y1="220.90" x2="108.75" y2="224.90" stroke="#262626" stroke-width="1.15"/>
<line x1="111.75" y1="220.90" x2="111.75" y2="224.90" stroke="#262626" stroke-width="1.15"/>
<line x1="114.75" y1="220.90" x2="114.75" y2="224.90" stroke="#262626" stroke-width="1.15"/>
<line x1="117.75" y1="220.90" x2="117.75" y2="224.90" stroke="#262626" stroke-width="1.15"/>
<line x1="120.75" y1="220.90" x2="120.75" y2="224.90" stroke="#262626" stroke-width="1.15"/>
<line x1="122.75" y1="220.90" x2="122.75" y2="224.90" stroke="#262626" stroke-width="1.15"/>
<line x1="125.75" y1="220.90" x2="125.75" y2="224.90" stroke="#262626" stroke-width="1.15"/>
<line x1="127.75" y1="220.90" x2="127.75" y2="224.90" stroke="#262626" stroke-width="1.15"/>
<line x1="131.75" y1="220.90" x2="131.75" y2="224.90" stroke="#262626" stroke-width="1.15"/>
<line x1="134.75" y1="220.90" x2="134.75" y2="224.90" stroke="#262626" stroke-width="1.15"/>
<line x1="138.75" y1="220.90" x2="138.75" y2="224.90" stroke="#262626" stroke-width="1.15"/>
<line x1="141.75" y1="220.90" x2="141.75" y2="224.90" stroke="#262626" stroke-width="1.15"/>
<line x1="90.75" y1="229.70" x2="90.75" y2="233.70" stroke="#262626" stroke-width="1.15"/>
<line x1="97.75" y1="229.70" x2="97.75" y2="233.70" stroke="#262626" stroke-width="1.15"/>
<line x1="104.75" y1="229.70" x2="104.75" y2="233.70" stroke="#262626" stroke-width="1.15"/>
<line x1="116.75" y1="229.70" x2="116.75" y2="233.70" stroke="#262626" stroke-width="1.15"/>
<line x1="124.75" y1="229.70" x2="124.75" y2="233.70" stroke="#262626" stroke-width="1.15"/>
<line x1="142.75" y1="226.80" x2="142.75" y2="230.80" stroke="#262626" stroke-width="1.15"/>
<line x1="146.75" y1="226.80" x2="146.75" y2="230.80" stroke="#262626" stroke-width="1.15"/>
<line x1="149.75" y1="226.80" x2="149.75" y2="230.80" stroke="#262626" stroke-width="1.15"/>
<line x1="153.75" y1="226.80" x2="153.75" y2="230.80" stroke="#262626" stroke-width="1.15"/>
<line x1="158.75" y1="226.80" x2="158.75" y2="230.80" stroke="#262626" stroke-width="1.15"/>
<line x1="160.75" y1="226.80" x2="160.75" y2="230.80" stroke="#262626" stroke-width="1.15"/>
<line x1="162.75" y1="226.80" x2="162.75" y2="230.80" stroke="#262626" stroke-width="1.15"/>
<line x1="169.75" y1="226.80" x2="169.75" y2="230.80" stroke="#262626" stroke-width="1.15"/>
<line x1="173.75" y1="226.80" x2="173.75" y2="230.80" stroke="#262626" stroke-width="1.15"/>
<line x1="175.75" y1="226.80" x2="175.75" y2="230.80" stroke="#262626" stroke-width="1.15"/>
<line x1="149.75" y1="220.90" x2="149.75" y2="224.90" stroke="#262626" stroke-width="1.15"/>
<line x1="153.75" y1="220.90" x2="153.75" y2="224.90" stroke="#262626" stroke-width="1.15"/>
<line x1="156.75" y1="220.90" x2="156.75" y2="224.90" stroke="#262626" stroke-width="1.15"/>
<line x1="160.75" y1="220.90" x2="160.75" y2="224.90" stroke="#262626" stroke-width="1.15"/>
<line x1="165.75" y1="220.90" x2="165.75" y2="224.90" stroke="#262626" stroke-width="1.15"/>
<line x1="169.75" y1="220.90" x2="169.75" y2="224.90" stroke="#262626" stroke-width="1.15"/>
<line x1="175.75" y1="220.90" x2="175.75" y2="224.90" stroke="#262626" stroke-width="1.15"/>
<line x1="181.75" y1="227.20" x2="181.75" y2="231.20" stroke="#262626" stroke-width="1.15"/>
<line x1="183.75" y1="227.20" x2="183.75" y2="231.20" stroke="#262626" stroke-width="1.15"/>
<line x1="190.75" y1="227.20" x2="190.75" y2="231.20" stroke="#262626" stroke-width="1.15"/>
<line x1="192.75" y1="227.20" x2="192.75" y2="231.20" stroke="#262626" stroke-width="1.15"/>
<line x1="197.75" y1="227.20" x2="197.75" y2="231.20" stroke="#262626" stroke-width="1.15"/>
<line x1="180.75" y1="235.80" x2="180.75" y2="239.80" stroke="#262626" stroke-width="1.15"/>
<line x1="184.75" y1="235.80" x2="184.75" y2="239.80" stroke="#262626" stroke-width="1.15"/>
<line x1="189.75" y1="235.80" x2="189.75" y2="239.80" stroke="#262626" stroke-width="1.15"/>
<line x1="193.75" y1="235.80" x2="193.75" y2="239.80" stroke="#262626" stroke-width="1.15"/>
<line x1="198.75" y1="235.80" x2="198.75" y2="239.80" stroke="#262626" stroke-width="1.15"/>
<line x1="202.75" y1="238.50" x2="202.75" y2="242.50" stroke="#262626" stroke-width="1.15"/>
<line x1="204.75" y1="238.50" x2="204.75" y2="242.50" stroke="#262626" stroke-width="1.15"/>
<line x1="209.75" y1="238.50" x2="209.75" y2="242.50" stroke="#262626" stroke-width="1.15"/>
<line x1="210.75" y1="238.50" x2="210.75" y2="242.50" stroke="#262626" stroke-width="1.15"/>
<line x1="161.75" y1="243.40" x2="161.75" y2="247.40" stroke="#262626" stroke-width="1.15"/>
<line x1="166.75" y1="243.40" x2="166.75" y2="247.40" stroke="#262626" stroke-width="1.15"/>
<line x1="173.75" y1="243.40" x2="173.75" y2="247.40" stroke="#262626" stroke-width="1.15"/>
<line x1="177.75" y1="243.40" x2="177.75" y2="247.40" stroke="#262626" stroke-width="1.15"/>
<line x1="166.75" y1="248.90" x2="166.75" y2="252.90" stroke="#262626" stroke-width="1.15"/>
<line x1="169.75" y1="248.90" x2="169.75" y2="252.90" stroke="#262626" stroke-width="1.15"/>
<line x1="175.75" y1="248.90" x2="175.75" y2="252.90" stroke="#262626" stroke-width="1.15"/>
<line x1="179.75" y1="248.90" x2="179.75" y2="252.90" stroke="#262626" stroke-width="1.15"/>
<line x1="183.75" y1="248.90" x2="183.75" y2="252.90" stroke="#262626" stroke-width="1.15"/>
<line x1="186.75" y1="248.90" x2="186.75" y2="252.90" stroke="#262626" stroke-width="1.15"/>
<line x1="190.75" y1="248.90" x2="190.75" y2="252.90" stroke="#262626" stroke-width="1.15"/>
<line x1="193.75" y1="248.90" x2="193.75" y2="252.90" stroke="#262626" stroke-width="1.15"/>
<line x1="199.75" y1="248.90" x2="199.75" y2="252.90" stroke="#262626" stroke-width="1.15"/>
<line x1="204.75" y1="248.90" x2="204.75" y2="252.90" stroke="#262626" stroke-width="1.15"/>
<line x1="206.75" y1="248.90" x2="206.75" y2="252.90" stroke="#262626" stroke-width="1.15"/>
<line x1="209.75" y1="248.90" x2="209.75" y2="252.90" stroke="#262626" stroke-width="1.15"/>
<line x1="199.75" y1="257.80" x2="199.75" y2="261.80" stroke="#262626" stroke-width="1.15"/>
<line x1="202.75" y1="257.80" x2="202.75" y2="261.80" stroke="#262626" stroke-width="1.15"/>
<line x1="206.75" y1="257.80" x2="206.75" y2="261.80" stroke="#262626" stroke-width="1.15"/>
<line x1="210.75" y1="257.80" x2="210.75" y2="261.80" stroke="#262626" stroke-width="1.15"/>
<line x1="305.30" y1="304.60" x2="314.00" y2="304.60" stroke="#a8435a" stroke-width="1.4"/>
<line x1="305.30" y1="312.50" x2="314.00" y2="312.50" stroke="#2d5088" stroke-width="1.4"/>
<line x1="305.30" y1="320.50" x2="314.00" y2="320.50" stroke="#a8435a" stroke-width="1.4" stroke-dasharray="2,1.3"/>
<line x1="305.30" y1="327.90" x2="314.00" y2="327.90" stroke="#2d5088" stroke-width="1.4" stroke-dasharray="2,1.3"/>
<text x="316.80" y="306.45" font-size="5.1" fill="#1a1a1a" style="stroke-width:0.1px">Ibr + R : Yes</text>
<text x="316.80" y="314.35" font-size="5.1" fill="#1a1a1a" style="stroke-width:0.1px">Ibr + R : No</text>
<text x="316.80" y="322.35" font-size="5.1" fill="#1a1a1a" style="stroke-width:0.1px">Ibr: Yes</text>
<text x="316.80" y="329.75" font-size="5.1" fill="#1a1a1a" style="stroke-width:0.1px">Ibr:No</text>
<text x="271.00" y="355.60" font-size="5.1" fill="#1a1a1a" style="stroke-width:0.1px">N at Risk</text>
<text x="295.90" y="364.70" font-size="5.1" text-anchor="end" textLength="28.0" lengthAdjust="spacingAndGlyphs" fill="#1a1a1a" style="stroke-width:0.1px">Ibr + R : Yes:</text>
<text x="302.30" y="364.70" font-size="5.1" text-anchor="middle" textLength="5.6" lengthAdjust="spacingAndGlyphs" fill="#1a1a1a" style="stroke-width:0.1px">15</text>
<text x="312.94" y="364.70" font-size="5.1" text-anchor="middle" textLength="5.6" lengthAdjust="spacingAndGlyphs" fill="#1a1a1a" style="stroke-width:0.1px">15</text>
<text x="323.57" y="364.70" font-size="5.1" text-anchor="middle" textLength="5.6" lengthAdjust="spacingAndGlyphs" fill="#1a1a1a" style="stroke-width:0.1px">15</text>
<text x="334.21" y="364.70" font-size="5.1" text-anchor="middle" textLength="5.6" lengthAdjust="spacingAndGlyphs" fill="#1a1a1a" style="stroke-width:0.1px">15</text>
<text x="344.85" y="364.70" font-size="5.1" text-anchor="middle" textLength="5.6" lengthAdjust="spacingAndGlyphs" fill="#1a1a1a" style="stroke-width:0.1px">14</text>
<text x="355.49" y="364.70" font-size="5.1" text-anchor="middle" textLength="5.6" lengthAdjust="spacingAndGlyphs" fill="#1a1a1a" style="stroke-width:0.1px">14</text>
<text x="366.12" y="364.70" font-size="5.1" text-anchor="middle" textLength="5.6" lengthAdjust="spacingAndGlyphs" fill="#1a1a1a" style="stroke-width:0.1px">12</text>
<text x="376.76" y="364.70" font-size="5.1" text-anchor="middle" textLength="5.6" lengthAdjust="spacingAndGlyphs" fill="#1a1a1a" style="stroke-width:0.1px">10</text>
<text x="387.40" y="364.70" font-size="5.1" text-anchor="middle" textLength="3.0" lengthAdjust="spacingAndGlyphs" fill="#1a1a1a" style="stroke-width:0.1px">9</text>
<text x="398.04" y="364.70" font-size="5.1" text-anchor="middle" textLength="3.0" lengthAdjust="spacingAndGlyphs" fill="#1a1a1a" style="stroke-width:0.1px">9</text>
<text x="408.68" y="364.70" font-size="5.1" text-anchor="middle" textLength="3.0" lengthAdjust="spacingAndGlyphs" fill="#1a1a1a" style="stroke-width:0.1px">7</text>
<text x="419.31" y="364.70" font-size="5.1" text-anchor="middle" textLength="3.0" lengthAdjust="spacingAndGlyphs" fill="#1a1a1a" style="stroke-width:0.1px">7</text>
<text x="429.95" y="364.70" font-size="5.1" text-anchor="middle" textLength="3.0" lengthAdjust="spacingAndGlyphs" fill="#1a1a1a" style="stroke-width:0.1px">5</text>
<text x="440.59" y="364.70" font-size="5.1" text-anchor="middle" textLength="3.0" lengthAdjust="spacingAndGlyphs" fill="#1a1a1a" style="stroke-width:0.1px">5</text>
<text x="451.23" y="364.70" font-size="5.1" text-anchor="middle" textLength="3.0" lengthAdjust="spacingAndGlyphs" fill="#1a1a1a" style="stroke-width:0.1px">2</text>
<text x="461.86" y="364.70" font-size="5.1" text-anchor="middle" textLength="3.0" lengthAdjust="spacingAndGlyphs" fill="#1a1a1a" style="stroke-width:0.1px">1</text>
<text x="295.90" y="371.37" font-size="5.1" text-anchor="end" textLength="26.3" lengthAdjust="spacingAndGlyphs" fill="#1a1a1a" style="stroke-width:0.1px">Ibr + R: No:</text>
<text x="302.30" y="371.37" font-size="5.1" text-anchor="middle" textLength="5.6" lengthAdjust="spacingAndGlyphs" fill="#1a1a1a" style="stroke-width:0.1px">86</text>
<text x="312.94" y="371.37" font-size="5.1" text-anchor="middle" textLength="5.6" lengthAdjust="spacingAndGlyphs" fill="#1a1a1a" style="stroke-width:0.1px">85</text>
<text x="323.57" y="371.37" font-size="5.1" text-anchor="middle" textLength="5.6" lengthAdjust="spacingAndGlyphs" fill="#1a1a1a" style="stroke-width:0.1px">82</text>
<text x="334.21" y="371.37" font-size="5.1" text-anchor="middle" textLength="5.6" lengthAdjust="spacingAndGlyphs" fill="#1a1a1a" style="stroke-width:0.1px">82</text>
<text x="344.85" y="371.37" font-size="5.1" text-anchor="middle" textLength="5.6" lengthAdjust="spacingAndGlyphs" fill="#1a1a1a" style="stroke-width:0.1px">81</text>
<text x="355.49" y="371.37" font-size="5.1" text-anchor="middle" textLength="5.6" lengthAdjust="spacingAndGlyphs" fill="#1a1a1a" style="stroke-width:0.1px">76</text>
<text x="366.12" y="371.37" font-size="5.1" text-anchor="middle" textLength="5.6" lengthAdjust="spacingAndGlyphs" fill="#1a1a1a" style="stroke-width:0.1px">74</text>
<text x="376.76" y="371.37" font-size="5.1" text-anchor="middle" textLength="5.6" lengthAdjust="spacingAndGlyphs" fill="#1a1a1a" style="stroke-width:0.1px">70</text>
<text x="387.40" y="371.37" font-size="5.1" text-anchor="middle" textLength="5.6" lengthAdjust="spacingAndGlyphs" fill="#1a1a1a" style="stroke-width:0.1px">62</text>
<text x="398.04" y="371.37" font-size="5.1" text-anchor="middle" textLength="5.6" lengthAdjust="spacingAndGlyphs" fill="#1a1a1a" style="stroke-width:0.1px">62</text>
<text x="408.68" y="371.37" font-size="5.1" text-anchor="middle" textLength="5.6" lengthAdjust="spacingAndGlyphs" fill="#1a1a1a" style="stroke-width:0.1px">53</text>
<text x="419.31" y="371.37" font-size="5.1" text-anchor="middle" textLength="5.6" lengthAdjust="spacingAndGlyphs" fill="#1a1a1a" style="stroke-width:0.1px">45</text>
<text x="429.95" y="371.37" font-size="5.1" text-anchor="middle" textLength="5.6" lengthAdjust="spacingAndGlyphs" fill="#1a1a1a" style="stroke-width:0.1px">40</text>
<text x="440.59" y="371.37" font-size="5.1" text-anchor="middle" textLength="5.6" lengthAdjust="spacingAndGlyphs" fill="#1a1a1a" style="stroke-width:0.1px">34</text>
<text x="451.23" y="371.37" font-size="5.1" text-anchor="middle" textLength="5.6" lengthAdjust="spacingAndGlyphs" fill="#1a1a1a" style="stroke-width:0.1px">22</text>
<text x="461.86" y="371.37" font-size="5.1" text-anchor="middle" textLength="3.0" lengthAdjust="spacingAndGlyphs" fill="#1a1a1a" style="stroke-width:0.1px">9</text>
<text x="295.90" y="378.04" font-size="5.1" text-anchor="end" textLength="18.2" lengthAdjust="spacingAndGlyphs" fill="#1a1a1a" style="stroke-width:0.1px">Ibr: Yes:</text>
<text x="302.30" y="378.04" font-size="5.1" text-anchor="middle" textLength="5.6" lengthAdjust="spacingAndGlyphs" fill="#1a1a1a" style="stroke-width:0.1px">27</text>
<text x="312.94" y="378.04" font-size="5.1" text-anchor="middle" textLength="5.6" lengthAdjust="spacingAndGlyphs" fill="#1a1a1a" style="stroke-width:0.1px">26</text>
<text x="323.57" y="378.04" font-size="5.1" text-anchor="middle" textLength="5.6" lengthAdjust="spacingAndGlyphs" fill="#1a1a1a" style="stroke-width:0.1px">26</text>
<text x="334.21" y="378.04" font-size="5.1" text-anchor="middle" textLength="5.6" lengthAdjust="spacingAndGlyphs" fill="#1a1a1a" style="stroke-width:0.1px">26</text>
<text x="344.85" y="378.04" font-size="5.1" text-anchor="middle" textLength="5.6" lengthAdjust="spacingAndGlyphs" fill="#1a1a1a" style="stroke-width:0.1px">26</text>
<text x="355.49" y="378.04" font-size="5.1" text-anchor="middle" textLength="5.6" lengthAdjust="spacingAndGlyphs" fill="#1a1a1a" style="stroke-width:0.1px">26</text>
<text x="366.12" y="378.04" font-size="5.1" text-anchor="middle" textLength="5.6" lengthAdjust="spacingAndGlyphs" fill="#1a1a1a" style="stroke-width:0.1px">25</text>
<text x="376.76" y="378.04" font-size="5.1" text-anchor="middle" textLength="5.6" lengthAdjust="spacingAndGlyphs" fill="#1a1a1a" style="stroke-width:0.1px">24</text>
<text x="387.40" y="378.04" font-size="5.1" text-anchor="middle" textLength="5.6" lengthAdjust="spacingAndGlyphs" fill="#1a1a1a" style="stroke-width:0.1px">20</text>
<text x="398.04" y="378.04" font-size="5.1" text-anchor="middle" textLength="5.6" lengthAdjust="spacingAndGlyphs" fill="#1a1a1a" style="stroke-width:0.1px">18</text>
<text x="408.68" y="378.04" font-size="5.1" text-anchor="middle" textLength="5.6" lengthAdjust="spacingAndGlyphs" fill="#1a1a1a" style="stroke-width:0.1px">14</text>
<text x="419.31" y="378.04" font-size="5.1" text-anchor="middle" textLength="5.6" lengthAdjust="spacingAndGlyphs" fill="#1a1a1a" style="stroke-width:0.1px">12</text>
<text x="429.95" y="378.04" font-size="5.1" text-anchor="middle" textLength="5.6" lengthAdjust="spacingAndGlyphs" fill="#1a1a1a" style="stroke-width:0.1px">10</text>
<text x="440.59" y="378.04" font-size="5.1" text-anchor="middle" textLength="3.0" lengthAdjust="spacingAndGlyphs" fill="#1a1a1a" style="stroke-width:0.1px">8</text>
<text x="451.23" y="378.04" font-size="5.1" text-anchor="middle" textLength="3.0" lengthAdjust="spacingAndGlyphs" fill="#1a1a1a" style="stroke-width:0.1px">4</text>
<text x="295.90" y="384.71" font-size="5.1" text-anchor="end" textLength="16.5" lengthAdjust="spacingAndGlyphs" fill="#1a1a1a" style="stroke-width:0.1px">Ibr: No:</text>
<text x="302.30" y="384.71" font-size="5.1" text-anchor="middle" textLength="5.6" lengthAdjust="spacingAndGlyphs" fill="#1a1a1a" style="stroke-width:0.1px">75</text>
<text x="312.94" y="384.71" font-size="5.1" text-anchor="middle" textLength="5.6" lengthAdjust="spacingAndGlyphs" fill="#1a1a1a" style="stroke-width:0.1px">75</text>
<text x="323.57" y="384.71" font-size="5.1" text-anchor="middle" textLength="5.6" lengthAdjust="spacingAndGlyphs" fill="#1a1a1a" style="stroke-width:0.1px">74</text>
<text x="334.21" y="384.71" font-size="5.1" text-anchor="middle" textLength="5.6" lengthAdjust="spacingAndGlyphs" fill="#1a1a1a" style="stroke-width:0.1px">72</text>
<text x="344.85" y="384.71" font-size="5.1" text-anchor="middle" textLength="5.6" lengthAdjust="spacingAndGlyphs" fill="#1a1a1a" style="stroke-width:0.1px">70</text>
<text x="355.49" y="384.71" font-size="5.1" text-anchor="middle" textLength="5.6" lengthAdjust="spacingAndGlyphs" fill="#1a1a1a" style="stroke-width:0.1px">64</text>
<text x="366.12" y="384.71" font-size="5.1" text-anchor="middle" textLength="5.6" lengthAdjust="spacingAndGlyphs" fill="#1a1a1a" style="stroke-width:0.1px">61</text>
<text x="376.76" y="384.71" font-size="5.1" text-anchor="middle" textLength="5.6" lengthAdjust="spacingAndGlyphs" fill="#1a1a1a" style="stroke-width:0.1px">59</text>
<text x="387.40" y="384.71" font-size="5.1" text-anchor="middle" textLength="5.6" lengthAdjust="spacingAndGlyphs" fill="#1a1a1a" style="stroke-width:0.1px">58</text>
<text x="398.04" y="384.71" font-size="5.1" text-anchor="middle" textLength="5.6" lengthAdjust="spacingAndGlyphs" fill="#1a1a1a" style="stroke-width:0.1px">51</text>
<text x="408.68" y="384.71" font-size="5.1" text-anchor="middle" textLength="5.6" lengthAdjust="spacingAndGlyphs" fill="#1a1a1a" style="stroke-width:0.1px">44</text>
<text x="419.31" y="384.71" font-size="5.1" text-anchor="middle" textLength="5.6" lengthAdjust="spacingAndGlyphs" fill="#1a1a1a" style="stroke-width:0.1px">39</text>
<text x="429.95" y="384.71" font-size="5.1" text-anchor="middle" textLength="5.6" lengthAdjust="spacingAndGlyphs" fill="#1a1a1a" style="stroke-width:0.1px">33</text>
<text x="440.59" y="384.71" font-size="5.1" text-anchor="middle" textLength="5.6" lengthAdjust="spacingAndGlyphs" fill="#1a1a1a" style="stroke-width:0.1px">26</text>
<text x="451.23" y="384.71" font-size="5.1" text-anchor="middle" textLength="5.6" lengthAdjust="spacingAndGlyphs" fill="#1a1a1a" style="stroke-width:0.1px">22</text>
<text x="461.86" y="384.71" font-size="5.1" text-anchor="middle" textLength="3.0" lengthAdjust="spacingAndGlyphs" fill="#1a1a1a" style="stroke-width:0.1px">8</text>
<path d="M302.70,219.80 H464.90 V219.80" fill="none" stroke="#a8435a" stroke-width="1.75"/>
<path d="M302.70,219.80 H396.30 V225.40 H432.30 V236.60 H453.60 V261.00 H460.90 V261.00" fill="none" stroke="#a8435a" stroke-width="1.75"/>
<path d="M302.70,219.80 H316.00 V221.20 H318.00 V222.70 H348.00 V224.50 H351.00 V227.00 H385.00 V229.40 H402.50 V232.20 H409.20 V235.10 H434.60 V237.70 H453.60 V240.30 H457.00 V243.70 H471.00 V243.70" fill="none" stroke="#2d5088" stroke-width="1.75"/>
<path d="M302.70,219.80 H316.00 V221.20 H343.00 V223.60 H347.00 V225.00 H351.00 V227.00 H385.00 V228.10 H397.70 V233.60 H400.60 V239.40 H435.00 V241.90 H457.00 V244.60 H471.00 V244.60" fill="none" stroke="#2d5088" stroke-width="1.75" stroke-dasharray="2.2,1.4"/>
<line x1="342.75" y1="217.70" x2="342.75" y2="221.70" stroke="#262626" stroke-width="1.15"/>
<line x1="357.75" y1="217.70" x2="357.75" y2="221.70" stroke="#262626" stroke-width="1.15"/>
<line x1="360.75" y1="217.70" x2="360.75" y2="221.70" stroke="#262626" stroke-width="1.15"/>
<line x1="368.75" y1="217.70" x2="368.75" y2="221.70" stroke="#262626" stroke-width="1.15"/>
<line x1="372.75" y1="217.70" x2="372.75" y2="221.70" stroke="#262626" stroke-width="1.15"/>
<line x1="380.75" y1="217.70" x2="380.75" y2="221.70" stroke="#262626" stroke-width="1.15"/>
<line x1="383.75" y1="217.70" x2="383.75" y2="221.70" stroke="#262626" stroke-width="1.15"/>
<line x1="392.75" y1="217.70" x2="392.75" y2="221.70" stroke="#262626" stroke-width="1.15"/>
<line x1="398.75" y1="217.70" x2="398.75" y2="221.70" stroke="#262626" stroke-width="1.15"/>
<line x1="407.75" y1="217.70" x2="407.75" y2="221.70" stroke="#262626" stroke-width="1.15"/>
<line x1="421.75" y1="217.70" x2="421.75" y2="221.70" stroke="#262626" stroke-width="1.15"/>
<line x1="426.75" y1="217.70" x2="426.75" y2="221.70" stroke="#262626" stroke-width="1.15"/>
<line x1="441.75" y1="217.70" x2="441.75" y2="221.70" stroke="#262626" stroke-width="1.15"/>
<line x1="450.75" y1="217.70" x2="450.75" y2="221.70" stroke="#262626" stroke-width="1.15"/>
<line x1="460.75" y1="217.70" x2="460.75" y2="221.70" stroke="#262626" stroke-width="1.15"/>
<line x1="464.75" y1="217.70" x2="464.75" y2="221.70" stroke="#262626" stroke-width="1.15"/>
<line x1="398.75" y1="223.40" x2="398.75" y2="227.40" stroke="#262626" stroke-width="1.15"/>
<line x1="401.75" y1="223.40" x2="401.75" y2="227.40" stroke="#262626" stroke-width="1.15"/>
<line x1="405.75" y1="223.40" x2="405.75" y2="227.40" stroke="#262626" stroke-width="1.15"/>
<line x1="407.75" y1="223.40" x2="407.75" y2="227.40" stroke="#262626" stroke-width="1.15"/>
<line x1="416.75" y1="223.40" x2="416.75" y2="227.40" stroke="#262626" stroke-width="1.15"/>
<line x1="422.75" y1="223.40" x2="422.75" y2="227.40" stroke="#262626" stroke-width="1.15"/>
<line x1="428.75" y1="223.40" x2="428.75" y2="227.40" stroke="#262626" stroke-width="1.15"/>
<line x1="437.75" y1="234.60" x2="437.75" y2="238.60" stroke="#262626" stroke-width="1.15"/>
<line x1="445.75" y1="234.60" x2="445.75" y2="238.60" stroke="#262626" stroke-width="1.15"/>
<line x1="450.75" y1="234.60" x2="450.75" y2="238.60" stroke="#262626" stroke-width="1.15"/>
<line x1="460.75" y1="259.00" x2="460.75" y2="263.00" stroke="#262626" stroke-width="1.15"/>
<line x1="313.75" y1="220.30" x2="313.75" y2="224.30" stroke="#262626" stroke-width="1.15"/>
<line x1="317.75" y1="220.30" x2="317.75" y2="224.30" stroke="#262626" stroke-width="1.15"/>
<line x1="321.75" y1="220.30" x2="321.75" y2="224.30" stroke="#262626" stroke-width="1.15"/>
<line x1="324.75" y1="220.30" x2="324.75" y2="224.30" stroke="#262626" stroke-width="1.15"/>
<line x1="327.75" y1="220.30" x2="327.75" y2="224.30" stroke="#262626" stroke-width="1.15"/>
<line x1="332.75" y1="220.30" x2="332.75" y2="224.30" stroke="#262626" stroke-width="1.15"/>
<line x1="336.75" y1="220.30" x2="336.75" y2="224.30" stroke="#262626" stroke-width="1.15"/>
<line x1="340.75" y1="220.30" x2="340.75" y2="224.30" stroke="#262626" stroke-width="1.15"/>
<line x1="349.75" y1="225.00" x2="349.75" y2="229.00" stroke="#262626" stroke-width="1.15"/>
<line x1="351.75" y1="225.00" x2="351.75" y2="229.00" stroke="#262626" stroke-width="1.15"/>
<line x1="355.75" y1="225.00" x2="355.75" y2="229.00" stroke="#262626" stroke-width="1.15"/>
<line x1="357.75" y1="225.00" x2="357.75" y2="229.00" stroke="#262626" stroke-width="1.15"/>
<line x1="360.75" y1="225.00" x2="360.75" y2="229.00" stroke="#262626" stroke-width="1.15"/>
<line x1="363.75" y1="225.00" x2="363.75" y2="229.00" stroke="#262626" stroke-width="1.15"/>
<line x1="367.75" y1="225.00" x2="367.75" y2="229.00" stroke="#262626" stroke-width="1.15"/>
<line x1="371.75" y1="225.00" x2="371.75" y2="229.00" stroke="#262626" stroke-width="1.15"/>
<line x1="373.75" y1="225.00" x2="373.75" y2="229.00" stroke="#262626" stroke-width="1.15"/>
<line x1="376.75" y1="225.00" x2="376.75" y2="229.00" stroke="#262626" stroke-width="1.15"/>
<line x1="379.75" y1="225.00" x2="379.75" y2="229.00" stroke="#262626" stroke-width="1.15"/>
<line x1="380.75" y1="225.00" x2="380.75" y2="229.00" stroke="#262626" stroke-width="1.15"/>
<line x1="387.75" y1="228.20" x2="387.75" y2="232.20" stroke="#262626" stroke-width="1.15"/>
<line x1="390.75" y1="228.20" x2="390.75" y2="232.20" stroke="#262626" stroke-width="1.15"/>
<line x1="394.75" y1="228.20" x2="394.75" y2="232.20" stroke="#262626" stroke-width="1.15"/>
<line x1="398.75" y1="228.20" x2="398.75" y2="232.20" stroke="#262626" stroke-width="1.15"/>
<line x1="401.75" y1="228.20" x2="401.75" y2="232.20" stroke="#262626" stroke-width="1.15"/>
<line x1="412.75" y1="233.30" x2="412.75" y2="237.30" stroke="#262626" stroke-width="1.15"/>
<line x1="416.75" y1="233.30" x2="416.75" y2="237.30" stroke="#262626" stroke-width="1.15"/>
<line x1="419.75" y1="233.30" x2="419.75" y2="237.30" stroke="#262626" stroke-width="1.15"/>
<line x1="423.75" y1="233.30" x2="423.75" y2="237.30" stroke="#262626" stroke-width="1.15"/>
<line x1="426.75" y1="233.30" x2="426.75" y2="237.30" stroke="#262626" stroke-width="1.15"/>
<line x1="430.75" y1="233.30" x2="430.75" y2="237.30" stroke="#262626" stroke-width="1.15"/>
<line x1="438.75" y1="237.80" x2="438.75" y2="241.80" stroke="#262626" stroke-width="1.15"/>
<line x1="441.75" y1="237.80" x2="441.75" y2="241.80" stroke="#262626" stroke-width="1.15"/>
<line x1="444.75" y1="237.80" x2="444.75" y2="241.80" stroke="#262626" stroke-width="1.15"/>
<line x1="447.75" y1="237.80" x2="447.75" y2="241.80" stroke="#262626" stroke-width="1.15"/>
<line x1="450.75" y1="237.80" x2="450.75" y2="241.80" stroke="#262626" stroke-width="1.15"/>
<line x1="453.75" y1="237.80" x2="453.75" y2="241.80" stroke="#262626" stroke-width="1.15"/>
<line x1="456.75" y1="237.80" x2="456.75" y2="241.80" stroke="#262626" stroke-width="1.15"/>
<line x1="459.75" y1="242.50" x2="459.75" y2="246.50" stroke="#262626" stroke-width="1.15"/>
<line x1="461.75" y1="242.50" x2="461.75" y2="246.50" stroke="#262626" stroke-width="1.15"/>
<line x1="464.75" y1="242.50" x2="464.75" y2="246.50" stroke="#262626" stroke-width="1.15"/>
<line x1="467.75" y1="242.50" x2="467.75" y2="246.50" stroke="#262626" stroke-width="1.15"/>
<rect x="0" y="0" width="520" height="1.4" fill="#4d4d4d"/>
<rect x="0" y="392.4" width="520" height="1.6" fill="#474747"/>
<rect x="0" y="0" width="1.2" height="394" fill="#000"/>
<rect x="518.8" y="0" width="1.2" height="394" fill="#000"/>
</svg>
</body></html>
